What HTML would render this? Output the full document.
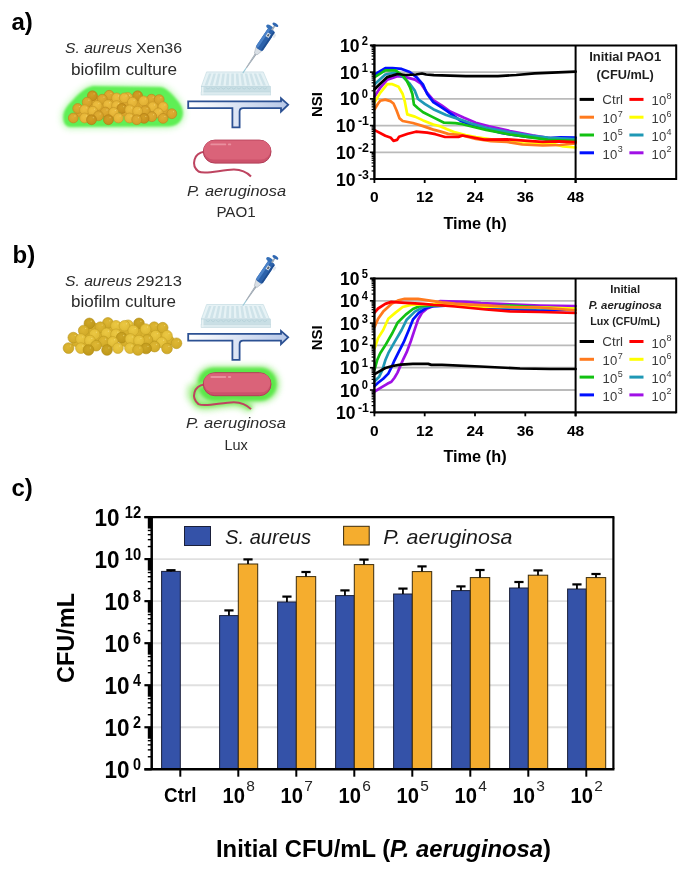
<!DOCTYPE html><html><head><meta charset="utf-8"><style>html,body{margin:0;padding:0;background:#fff;}svg{display:block;}text{font-family:"Liberation Sans",sans-serif;}</style></head><body>
<svg style="will-change:transform" width="685" height="871" viewBox="0 0 685 871">

<defs>
 <radialGradient id="gD" cx="0.45" cy="0.4" r="0.65"><stop offset="0" stop-color="#D29E25"/><stop offset="1" stop-color="#C28C1A"/></radialGradient>
 <radialGradient id="gM" cx="0.45" cy="0.4" r="0.65"><stop offset="0" stop-color="#E0AD33"/><stop offset="1" stop-color="#D19D25"/></radialGradient>
 <radialGradient id="gL" cx="0.45" cy="0.4" r="0.65"><stop offset="0" stop-color="#EDBE40"/><stop offset="1" stop-color="#DFAE31"/></radialGradient>
 <radialGradient id="bD" cx="0.45" cy="0.4" r="0.65"><stop offset="0" stop-color="#CDA626"/><stop offset="1" stop-color="#BD9619"/></radialGradient>
 <radialGradient id="bM" cx="0.45" cy="0.4" r="0.65"><stop offset="0" stop-color="#DEB734"/><stop offset="1" stop-color="#CFA826"/></radialGradient>
 <radialGradient id="bL" cx="0.45" cy="0.4" r="0.65"><stop offset="0" stop-color="#EBC843"/><stop offset="1" stop-color="#DEB833"/></radialGradient>
 <linearGradient id="arr" x1="0" y1="0" x2="1" y2="0"><stop offset="0" stop-color="#FFFFFF"/><stop offset="1" stop-color="#B7C8E8"/></linearGradient>
 <linearGradient id="arrS" x1="0" y1="0" x2="0" y2="1"><stop offset="0" stop-color="#D3DDF0"/><stop offset="1" stop-color="#E8EEF8"/></linearGradient>
 <filter id="blur4" x="-30%" y="-60%" width="160%" height="220%"><feGaussianBlur stdDeviation="3.2"/></filter>
 <filter id="blur1" x="-30%" y="-60%" width="160%" height="220%"><feGaussianBlur stdDeviation="1.0"/></filter>
 <filter id="blur2" x="-30%" y="-60%" width="160%" height="220%"><feGaussianBlur stdDeviation="1.6"/></filter>
</defs>

<rect width="685" height="871" fill="#fff"/>
<text x="11.5" y="30" font-size="24" font-weight="bold" font-style="normal" fill="#000" text-anchor="start">a)</text>
<text x="12.5" y="263" font-size="24" font-weight="bold" font-style="normal" fill="#000" text-anchor="start">b)</text>
<text x="11.5" y="496" font-size="24" font-weight="bold" font-style="normal" fill="#000" text-anchor="start">c)</text>
<g filter="url(#blur4)" opacity="0.45"><path d="M93,86 L160,87 C167,88 172,94 177,100 C182,106 184.5,112 182,118 C180,123 176,126 168,126.5 L70,127 C64,126.5 62.5,120 63.5,114 C65,108 69,104 73,100 C78,94 86,87 93,86 Z" fill="#7CF06A" stroke="#7CF06A" stroke-width="4"/></g>
<g filter="url(#blur1)"><path d="M93,86 L160,87 C167,88 172,94 177,100 C182,106 184.5,112 182,118 C180,123 176,126 168,126.5 L70,127 C64,126.5 62.5,120 63.5,114 C65,108 69,104 73,100 C78,94 86,87 93,86 Z" fill="#5FEF55"/></g>
<circle cx="95.7" cy="99.5" r="4.70" fill="url(#gM)"/>
<circle cx="111.8" cy="99.5" r="4.70" fill="url(#gM)"/>
<circle cx="120.2" cy="101.6" r="4.70" fill="url(#gM)"/>
<circle cx="137.7" cy="101.6" r="4.70" fill="url(#gM)"/>
<circle cx="126.5" cy="102.3" r="4.70" fill="url(#gM)"/>
<circle cx="155.2" cy="102.3" r="4.70" fill="url(#gM)"/>
<circle cx="92.2" cy="103.0" r="4.70" fill="url(#gM)"/>
<circle cx="148.2" cy="103.0" r="4.70" fill="url(#gM)"/>
<circle cx="102.0" cy="104.4" r="4.70" fill="url(#gM)"/>
<circle cx="141.2" cy="105.1" r="4.70" fill="url(#gM)"/>
<circle cx="135.6" cy="106.5" r="4.70" fill="url(#gM)"/>
<circle cx="158.0" cy="106.5" r="4.70" fill="url(#gM)"/>
<circle cx="88.7" cy="107.2" r="4.70" fill="url(#gM)"/>
<circle cx="111.8" cy="107.9" r="4.70" fill="url(#gM)"/>
<circle cx="100.6" cy="109.3" r="4.70" fill="url(#gM)"/>
<circle cx="150.3" cy="111.4" r="4.70" fill="url(#gM)"/>
<circle cx="164.3" cy="111.4" r="4.70" fill="url(#gM)"/>
<circle cx="125.1" cy="112.1" r="4.70" fill="url(#gM)"/>
<circle cx="80.3" cy="112.8" r="4.70" fill="url(#gM)"/>
<circle cx="88.0" cy="113.5" r="4.70" fill="url(#gM)"/>
<circle cx="132.8" cy="113.5" r="4.70" fill="url(#gM)"/>
<circle cx="141.2" cy="114.2" r="4.70" fill="url(#gM)"/>
<circle cx="109.0" cy="114.9" r="4.70" fill="url(#gM)"/>
<circle cx="109.2" cy="95.3" r="4.95" fill="url(#gM)" stroke="#B8861C" stroke-width="0.6"/>
<circle cx="111.0" cy="93.3" r="0.64" fill="#FFF0A0" opacity="0.45"/>
<circle cx="92.4" cy="95.8" r="4.95" fill="url(#gD)" stroke="#AE7A12" stroke-width="0.6"/>
<circle cx="94.1" cy="93.8" r="0.64" fill="#FFF0A0" opacity="0.45"/>
<circle cx="137.6" cy="95.8" r="4.95" fill="url(#gD)" stroke="#AE7A12" stroke-width="0.6"/>
<circle cx="139.3" cy="93.8" r="0.64" fill="#FFF0A0" opacity="0.45"/>
<circle cx="127.7" cy="97.5" r="4.95" fill="url(#gL)" stroke="#C49424" stroke-width="0.6"/>
<circle cx="129.4" cy="95.5" r="0.64" fill="#FFF0A0" opacity="0.45"/>
<circle cx="116.6" cy="97.9" r="4.95" fill="url(#gL)" stroke="#C49424" stroke-width="0.6"/>
<circle cx="118.4" cy="95.9" r="0.64" fill="#FFF0A0" opacity="0.45"/>
<circle cx="124.4" cy="97.9" r="4.95" fill="url(#gL)" stroke="#C49424" stroke-width="0.6"/>
<circle cx="126.1" cy="95.9" r="0.64" fill="#FFF0A0" opacity="0.45"/>
<circle cx="102.3" cy="99.2" r="4.95" fill="url(#gM)" stroke="#B8861C" stroke-width="0.6"/>
<circle cx="104.0" cy="97.2" r="0.64" fill="#FFF0A0" opacity="0.45"/>
<circle cx="151.5" cy="99.2" r="4.95" fill="url(#gM)" stroke="#B8861C" stroke-width="0.6"/>
<circle cx="153.2" cy="97.2" r="0.64" fill="#FFF0A0" opacity="0.45"/>
<circle cx="159.2" cy="99.6" r="4.95" fill="url(#gM)" stroke="#B8861C" stroke-width="0.6"/>
<circle cx="160.9" cy="97.7" r="0.64" fill="#FFF0A0" opacity="0.45"/>
<circle cx="143.6" cy="100.9" r="4.95" fill="url(#gL)" stroke="#C49424" stroke-width="0.6"/>
<circle cx="145.3" cy="98.9" r="0.64" fill="#FFF0A0" opacity="0.45"/>
<circle cx="87.2" cy="102.2" r="4.95" fill="url(#gM)" stroke="#B8861C" stroke-width="0.6"/>
<circle cx="88.9" cy="100.2" r="0.64" fill="#FFF0A0" opacity="0.45"/>
<circle cx="132.4" cy="102.2" r="4.95" fill="url(#gL)" stroke="#C49424" stroke-width="0.6"/>
<circle cx="134.1" cy="100.2" r="0.64" fill="#FFF0A0" opacity="0.45"/>
<circle cx="108.0" cy="104.7" r="4.95" fill="url(#gL)" stroke="#C49424" stroke-width="0.6"/>
<circle cx="109.7" cy="102.7" r="0.64" fill="#FFF0A0" opacity="0.45"/>
<circle cx="97.1" cy="105.6" r="4.95" fill="url(#gL)" stroke="#C49424" stroke-width="0.6"/>
<circle cx="98.8" cy="103.6" r="0.64" fill="#FFF0A0" opacity="0.45"/>
<circle cx="116.6" cy="105.6" r="4.95" fill="url(#gL)" stroke="#C49424" stroke-width="0.6"/>
<circle cx="118.4" cy="103.6" r="0.64" fill="#FFF0A0" opacity="0.45"/>
<circle cx="152.7" cy="106.8" r="4.95" fill="url(#gL)" stroke="#C49424" stroke-width="0.6"/>
<circle cx="154.5" cy="104.9" r="0.64" fill="#FFF0A0" opacity="0.45"/>
<circle cx="163.1" cy="106.8" r="4.95" fill="url(#gL)" stroke="#C49424" stroke-width="0.6"/>
<circle cx="164.9" cy="104.9" r="0.64" fill="#FFF0A0" opacity="0.45"/>
<circle cx="77.7" cy="108.5" r="4.95" fill="url(#gM)" stroke="#B8861C" stroke-width="0.6"/>
<circle cx="79.4" cy="106.6" r="0.64" fill="#FFF0A0" opacity="0.45"/>
<circle cx="121.8" cy="108.5" r="4.95" fill="url(#gD)" stroke="#AE7A12" stroke-width="0.6"/>
<circle cx="123.6" cy="106.6" r="0.64" fill="#FFF0A0" opacity="0.45"/>
<circle cx="84.6" cy="109.8" r="4.95" fill="url(#gL)" stroke="#C49424" stroke-width="0.6"/>
<circle cx="86.3" cy="107.8" r="0.64" fill="#FFF0A0" opacity="0.45"/>
<circle cx="129.8" cy="109.8" r="4.95" fill="url(#gL)" stroke="#C49424" stroke-width="0.6"/>
<circle cx="131.5" cy="107.8" r="0.64" fill="#FFF0A0" opacity="0.45"/>
<circle cx="145.3" cy="110.7" r="4.95" fill="url(#gM)" stroke="#B8861C" stroke-width="0.6"/>
<circle cx="147.1" cy="108.7" r="0.64" fill="#FFF0A0" opacity="0.45"/>
<circle cx="92.8" cy="111.2" r="4.95" fill="url(#gL)" stroke="#C49424" stroke-width="0.6"/>
<circle cx="94.5" cy="109.2" r="0.64" fill="#FFF0A0" opacity="0.45"/>
<circle cx="137.6" cy="111.2" r="4.95" fill="url(#gL)" stroke="#C49424" stroke-width="0.6"/>
<circle cx="139.3" cy="109.2" r="0.64" fill="#FFF0A0" opacity="0.45"/>
<circle cx="105.3" cy="112.0" r="4.95" fill="url(#gM)" stroke="#B8861C" stroke-width="0.6"/>
<circle cx="107.0" cy="110.0" r="0.64" fill="#FFF0A0" opacity="0.45"/>
<circle cx="113.6" cy="112.4" r="4.95" fill="url(#gL)" stroke="#C49424" stroke-width="0.6"/>
<circle cx="115.3" cy="110.4" r="0.64" fill="#FFF0A0" opacity="0.45"/>
<circle cx="158.3" cy="112.9" r="4.95" fill="url(#gL)" stroke="#C49424" stroke-width="0.6"/>
<circle cx="160.0" cy="110.9" r="0.64" fill="#FFF0A0" opacity="0.45"/>
<circle cx="171.8" cy="113.7" r="4.95" fill="url(#gM)" stroke="#B8861C" stroke-width="0.6"/>
<circle cx="173.5" cy="111.7" r="0.64" fill="#FFF0A0" opacity="0.45"/>
<circle cx="98.5" cy="115.8" r="4.95" fill="url(#gM)" stroke="#B8861C" stroke-width="0.6"/>
<circle cx="100.2" cy="113.9" r="0.64" fill="#FFF0A0" opacity="0.45"/>
<circle cx="151.8" cy="116.7" r="4.95" fill="url(#gM)" stroke="#B8861C" stroke-width="0.6"/>
<circle cx="153.6" cy="114.7" r="0.64" fill="#FFF0A0" opacity="0.45"/>
<circle cx="73.3" cy="118.0" r="4.95" fill="url(#gM)" stroke="#B8861C" stroke-width="0.6"/>
<circle cx="75.0" cy="116.0" r="0.64" fill="#FFF0A0" opacity="0.45"/>
<circle cx="84.6" cy="118.0" r="4.95" fill="url(#gL)" stroke="#C49424" stroke-width="0.6"/>
<circle cx="86.3" cy="116.0" r="0.64" fill="#FFF0A0" opacity="0.45"/>
<circle cx="118.4" cy="118.0" r="4.95" fill="url(#gL)" stroke="#C49424" stroke-width="0.6"/>
<circle cx="120.1" cy="116.0" r="0.64" fill="#FFF0A0" opacity="0.45"/>
<circle cx="129.4" cy="118.0" r="4.95" fill="url(#gL)" stroke="#C49424" stroke-width="0.6"/>
<circle cx="131.1" cy="116.0" r="0.64" fill="#FFF0A0" opacity="0.45"/>
<circle cx="144.1" cy="118.4" r="4.95" fill="url(#gD)" stroke="#AE7A12" stroke-width="0.6"/>
<circle cx="145.8" cy="116.4" r="0.64" fill="#FFF0A0" opacity="0.45"/>
<circle cx="163.1" cy="118.4" r="4.95" fill="url(#gM)" stroke="#B8861C" stroke-width="0.6"/>
<circle cx="164.9" cy="116.4" r="0.64" fill="#FFF0A0" opacity="0.45"/>
<circle cx="91.5" cy="119.7" r="4.95" fill="url(#gD)" stroke="#AE7A12" stroke-width="0.6"/>
<circle cx="93.3" cy="117.7" r="0.64" fill="#FFF0A0" opacity="0.45"/>
<circle cx="108.4" cy="119.7" r="4.95" fill="url(#gD)" stroke="#AE7A12" stroke-width="0.6"/>
<circle cx="110.1" cy="117.7" r="0.64" fill="#FFF0A0" opacity="0.45"/>
<circle cx="136.7" cy="119.7" r="4.95" fill="url(#gM)" stroke="#B8861C" stroke-width="0.6"/>
<circle cx="138.4" cy="117.7" r="0.64" fill="#FFF0A0" opacity="0.45"/>
<path d="M206.6,71.9 L263.3,71.9 L269.4,86.4 L201.4,86.4 Z" fill="#E6F2F5" stroke="#C6DCE2" stroke-width="0.7"/>
<path d="M209.00,73.4 L211.46,73.4 L207.40,85.4 L204.47,85.4 Z" fill="#CFE3E9"/>
<path d="M213.47,73.4 L215.93,73.4 L212.73,85.4 L209.80,85.4 Z" fill="#CFE3E9"/>
<path d="M217.94,73.4 L220.41,73.4 L218.07,85.4 L215.13,85.4 Z" fill="#CFE3E9"/>
<path d="M222.42,73.4 L224.88,73.4 L223.40,85.4 L220.47,85.4 Z" fill="#CFE3E9"/>
<path d="M226.90,73.4 L229.36,73.4 L228.73,85.4 L225.80,85.4 Z" fill="#CFE3E9"/>
<path d="M231.37,73.4 L233.83,73.4 L234.07,85.4 L231.13,85.4 Z" fill="#CFE3E9"/>
<path d="M235.84,73.4 L238.31,73.4 L239.40,85.4 L236.47,85.4 Z" fill="#CFE3E9"/>
<path d="M240.32,73.4 L242.78,73.4 L244.73,85.4 L241.80,85.4 Z" fill="#CFE3E9"/>
<path d="M244.80,73.4 L247.26,73.4 L250.07,85.4 L247.13,85.4 Z" fill="#CFE3E9"/>
<path d="M249.27,73.4 L251.73,73.4 L255.40,85.4 L252.47,85.4 Z" fill="#CFE3E9"/>
<path d="M253.75,73.4 L256.21,73.4 L260.73,85.4 L257.80,85.4 Z" fill="#CFE3E9"/>
<path d="M258.22,73.4 L260.68,73.4 L266.07,85.4 L263.13,85.4 Z" fill="#CFE3E9"/>
<rect x="201.4" y="86.4" width="68.99999999999997" height="5.599999999999994" fill="#C9DFE5" stroke="#BCD5DC" stroke-width="0.6"/>
<path d="M205.78,87.60000000000001 Q207.98,90.60000000000001 210.18,87.60000000000001" fill="none" stroke="#B2CFD7" stroke-width="0.8"/>
<path d="M210.95,87.60000000000001 Q213.15,90.60000000000001 215.35,87.60000000000001" fill="none" stroke="#B2CFD7" stroke-width="0.8"/>
<path d="M216.12,87.60000000000001 Q218.32,90.60000000000001 220.52,87.60000000000001" fill="none" stroke="#B2CFD7" stroke-width="0.8"/>
<path d="M221.28,87.60000000000001 Q223.48,90.60000000000001 225.68,87.60000000000001" fill="none" stroke="#B2CFD7" stroke-width="0.8"/>
<path d="M226.45,87.60000000000001 Q228.65,90.60000000000001 230.85,87.60000000000001" fill="none" stroke="#B2CFD7" stroke-width="0.8"/>
<path d="M231.62,87.60000000000001 Q233.82,90.60000000000001 236.02,87.60000000000001" fill="none" stroke="#B2CFD7" stroke-width="0.8"/>
<path d="M236.78,87.60000000000001 Q238.98,90.60000000000001 241.18,87.60000000000001" fill="none" stroke="#B2CFD7" stroke-width="0.8"/>
<path d="M241.95,87.60000000000001 Q244.15,90.60000000000001 246.35,87.60000000000001" fill="none" stroke="#B2CFD7" stroke-width="0.8"/>
<path d="M247.12,87.60000000000001 Q249.32,90.60000000000001 251.52,87.60000000000001" fill="none" stroke="#B2CFD7" stroke-width="0.8"/>
<path d="M252.28,87.60000000000001 Q254.48,90.60000000000001 256.68,87.60000000000001" fill="none" stroke="#B2CFD7" stroke-width="0.8"/>
<path d="M257.45,87.60000000000001 Q259.65,90.60000000000001 261.85,87.60000000000001" fill="none" stroke="#B2CFD7" stroke-width="0.8"/>
<path d="M262.62,87.60000000000001 Q264.82,90.60000000000001 267.02,87.60000000000001" fill="none" stroke="#B2CFD7" stroke-width="0.8"/>
<rect x="201.1" y="92.0" width="69.59999999999997" height="3.0" fill="#DCEBEF" stroke="#C3D9DF" stroke-width="0.6"/>
<rect x="201.70000000000002" y="86.9" width="1.8" height="7.599999999999994" fill="#E8F2F4"/>
<g transform="translate(242.8,73.1) rotate(-56)">
<line x1="0" y1="0" x2="7" y2="0" stroke="#9CCAD8" stroke-width="1.1"/>
<path d="M6.5,-0.55 L24,-1.0 L24,1.0 L6.5,0.55 Z" fill="#929DA8"/>
<path d="M6.5,-0.2 L24,-0.4 L24,0.1 L6.5,0.1 Z" fill="#C7CED6"/>
<path d="M23,-1.6 L29.5,-3.8 L29.5,3.6 L23,1.6 Z" fill="#D9DFE5" stroke="#A3ACB6" stroke-width="0.5"/>
<rect x="28.5" y="-4.1" width="24" height="8.2" rx="2.2" fill="#2C62AB"/>
<rect x="29.5" y="-4.1" width="22" height="2.6" rx="1.2" fill="#4B82C8"/>
<rect x="29.5" y="2.2" width="22" height="1.6" rx="0.8" fill="#1F4E90"/>
<ellipse cx="53" cy="-3.2" rx="2.0" ry="4.0" fill="#3570B8"/>
<rect x="43.5" y="-1.8" width="4.2" height="3.4" fill="#E9EEF4"/>
<rect x="44.3" y="-1.0" width="2.6" height="1.8" fill="#55606C"/>
<rect x="46.5" y="4.0" width="4" height="2.6" rx="0.8" fill="#E3E8EE"/>
<rect x="52" y="-0.8" width="5.5" height="1.6" fill="#A0AAB4"/>
<ellipse cx="58.3" cy="0" rx="1.5" ry="3.3" fill="#2F67B2"/>
</g>
<path d="M188.2,101.3 L281.0,101.3 L281.0,98.3 L288.2,104.69999999999999 L281.0,111.6 L281.0,108.1 L243.1,108.1 Q239.6,108.1 239.6,111.6 L239.6,127.3 L232.4,127.3 L232.4,108.1 L188.2,108.1 Z" fill="url(#arr)" stroke="#2C5193" stroke-width="1.8" stroke-linejoin="miter"/>
<path d="M204.3,151.8 C194,153 190.5,165 198.5,171.5 C205,175 222,169.5 234,169.6 C242,169.8 247,172.5 251,176.5" fill="none" stroke="#BE4460" stroke-width="2"/>
<rect x="203.3" y="140.1" width="67.69999999999999" height="23.0" rx="11.5" fill="#CC526B" stroke="#B23E58" stroke-width="1"/>
<rect x="203.8" y="140.6" width="66.69999999999999" height="19.0" rx="9.5" fill="#DA6379"/>
<line x1="211.3" y1="144.4" x2="225.3" y2="144.4" stroke="#E9909F" stroke-width="1.8" stroke-linecap="round"/>
<line x1="228.8" y1="144.4" x2="230.3" y2="144.4" stroke="#E9909F" stroke-width="1.8" stroke-linecap="round"/>
<text x="65" y="53.2" font-size="15" font-weight="normal" font-style="italic" fill="#2B2B2B" text-anchor="start" textLength="67" lengthAdjust="spacingAndGlyphs">S. aureus</text>
<text x="136" y="53.2" font-size="15" font-weight="normal" font-style="normal" fill="#2B2B2B" text-anchor="start" textLength="46" lengthAdjust="spacingAndGlyphs">Xen36</text>
<text x="71" y="74.6" font-size="16" font-weight="normal" font-style="normal" fill="#2B2B2B" text-anchor="start" textLength="106" lengthAdjust="spacingAndGlyphs">biofilm culture</text>
<text x="187" y="195.7" font-size="14.8" font-weight="normal" font-style="italic" fill="#2B2B2B" text-anchor="start" textLength="99" lengthAdjust="spacingAndGlyphs">P. aeruginosa</text>
<text x="216.4" y="217.2" font-size="15" font-weight="normal" font-style="normal" fill="#2B2B2B" text-anchor="start" textLength="39.3" lengthAdjust="spacingAndGlyphs">PAO1</text>
<circle cx="93.0" cy="327.1" r="5.08" fill="url(#bM)"/>
<circle cx="105.6" cy="327.8" r="5.08" fill="url(#bM)"/>
<circle cx="111.2" cy="327.8" r="5.08" fill="url(#bM)"/>
<circle cx="120.3" cy="329.2" r="5.08" fill="url(#bM)"/>
<circle cx="138.5" cy="329.9" r="5.08" fill="url(#bM)"/>
<circle cx="88.8" cy="330.6" r="5.08" fill="url(#bM)"/>
<circle cx="126.6" cy="330.6" r="5.08" fill="url(#bM)"/>
<circle cx="158.1" cy="330.6" r="5.08" fill="url(#bM)"/>
<circle cx="150.4" cy="331.3" r="5.08" fill="url(#bM)"/>
<circle cx="100.0" cy="332.7" r="5.08" fill="url(#bM)"/>
<circle cx="142.7" cy="333.4" r="5.08" fill="url(#bM)"/>
<circle cx="137.1" cy="334.8" r="5.08" fill="url(#bM)"/>
<circle cx="161.6" cy="334.8" r="5.08" fill="url(#bM)"/>
<circle cx="85.3" cy="335.5" r="5.08" fill="url(#bM)"/>
<circle cx="111.2" cy="336.2" r="5.08" fill="url(#bM)"/>
<circle cx="98.6" cy="337.6" r="5.08" fill="url(#bM)"/>
<circle cx="153.2" cy="340.4" r="5.08" fill="url(#bM)"/>
<circle cx="169.3" cy="340.4" r="5.08" fill="url(#bM)"/>
<circle cx="76.2" cy="341.8" r="5.08" fill="url(#bM)"/>
<circle cx="125.2" cy="341.8" r="5.08" fill="url(#bM)"/>
<circle cx="84.6" cy="342.5" r="5.08" fill="url(#bM)"/>
<circle cx="134.3" cy="342.5" r="5.08" fill="url(#bM)"/>
<circle cx="143.4" cy="343.2" r="5.08" fill="url(#bM)"/>
<circle cx="107.7" cy="344.6" r="5.08" fill="url(#bM)"/>
<circle cx="149.7" cy="344.6" r="5.08" fill="url(#bM)"/>
<circle cx="107.9" cy="322.9" r="5.35" fill="url(#bM)" stroke="#B8951C" stroke-width="0.6"/>
<circle cx="109.8" cy="320.8" r="0.70" fill="#FFF0A0" opacity="0.45"/>
<circle cx="89.4" cy="323.4" r="5.35" fill="url(#bD)" stroke="#AE8912" stroke-width="0.6"/>
<circle cx="91.3" cy="321.3" r="0.70" fill="#FFF0A0" opacity="0.45"/>
<circle cx="139.0" cy="323.4" r="5.35" fill="url(#bD)" stroke="#AE8912" stroke-width="0.6"/>
<circle cx="140.9" cy="321.3" r="0.70" fill="#FFF0A0" opacity="0.45"/>
<circle cx="128.1" cy="325.3" r="5.35" fill="url(#bL)" stroke="#C4A024" stroke-width="0.6"/>
<circle cx="130.0" cy="323.2" r="0.70" fill="#FFF0A0" opacity="0.45"/>
<circle cx="116.0" cy="325.8" r="5.35" fill="url(#bL)" stroke="#C4A024" stroke-width="0.6"/>
<circle cx="117.9" cy="323.7" r="0.70" fill="#FFF0A0" opacity="0.45"/>
<circle cx="124.5" cy="325.8" r="5.35" fill="url(#bL)" stroke="#C4A024" stroke-width="0.6"/>
<circle cx="126.4" cy="323.7" r="0.70" fill="#FFF0A0" opacity="0.45"/>
<circle cx="100.3" cy="327.2" r="5.35" fill="url(#bM)" stroke="#B8951C" stroke-width="0.6"/>
<circle cx="102.2" cy="325.1" r="0.70" fill="#FFF0A0" opacity="0.45"/>
<circle cx="154.2" cy="327.2" r="5.35" fill="url(#bM)" stroke="#B8951C" stroke-width="0.6"/>
<circle cx="156.1" cy="325.1" r="0.70" fill="#FFF0A0" opacity="0.45"/>
<circle cx="162.7" cy="327.7" r="5.35" fill="url(#bM)" stroke="#B8951C" stroke-width="0.6"/>
<circle cx="164.6" cy="325.6" r="0.70" fill="#FFF0A0" opacity="0.45"/>
<circle cx="145.6" cy="329.1" r="5.35" fill="url(#bL)" stroke="#C4A024" stroke-width="0.6"/>
<circle cx="147.5" cy="327.0" r="0.70" fill="#FFF0A0" opacity="0.45"/>
<circle cx="83.7" cy="330.5" r="5.35" fill="url(#bM)" stroke="#B8951C" stroke-width="0.6"/>
<circle cx="85.6" cy="328.4" r="0.70" fill="#FFF0A0" opacity="0.45"/>
<circle cx="133.3" cy="330.5" r="5.35" fill="url(#bL)" stroke="#C4A024" stroke-width="0.6"/>
<circle cx="135.2" cy="328.4" r="0.70" fill="#FFF0A0" opacity="0.45"/>
<circle cx="106.5" cy="333.3" r="5.35" fill="url(#bL)" stroke="#C4A024" stroke-width="0.6"/>
<circle cx="108.4" cy="331.2" r="0.70" fill="#FFF0A0" opacity="0.45"/>
<circle cx="94.6" cy="334.3" r="5.35" fill="url(#bL)" stroke="#C4A024" stroke-width="0.6"/>
<circle cx="96.5" cy="332.2" r="0.70" fill="#FFF0A0" opacity="0.45"/>
<circle cx="116.0" cy="334.3" r="5.35" fill="url(#bL)" stroke="#C4A024" stroke-width="0.6"/>
<circle cx="117.9" cy="332.2" r="0.70" fill="#FFF0A0" opacity="0.45"/>
<circle cx="155.6" cy="335.7" r="5.35" fill="url(#bL)" stroke="#C4A024" stroke-width="0.6"/>
<circle cx="157.5" cy="333.6" r="0.70" fill="#FFF0A0" opacity="0.45"/>
<circle cx="167.0" cy="335.7" r="5.35" fill="url(#bL)" stroke="#C4A024" stroke-width="0.6"/>
<circle cx="168.9" cy="333.6" r="0.70" fill="#FFF0A0" opacity="0.45"/>
<circle cx="73.3" cy="337.6" r="5.35" fill="url(#bM)" stroke="#B8951C" stroke-width="0.6"/>
<circle cx="75.2" cy="335.5" r="0.70" fill="#FFF0A0" opacity="0.45"/>
<circle cx="121.7" cy="337.6" r="5.35" fill="url(#bD)" stroke="#AE8912" stroke-width="0.6"/>
<circle cx="123.6" cy="335.5" r="0.70" fill="#FFF0A0" opacity="0.45"/>
<circle cx="80.9" cy="339.0" r="5.35" fill="url(#bL)" stroke="#C4A024" stroke-width="0.6"/>
<circle cx="82.8" cy="336.9" r="0.70" fill="#FFF0A0" opacity="0.45"/>
<circle cx="130.4" cy="339.0" r="5.35" fill="url(#bL)" stroke="#C4A024" stroke-width="0.6"/>
<circle cx="132.3" cy="336.9" r="0.70" fill="#FFF0A0" opacity="0.45"/>
<circle cx="147.5" cy="340.0" r="5.35" fill="url(#bM)" stroke="#B8951C" stroke-width="0.6"/>
<circle cx="149.4" cy="337.9" r="0.70" fill="#FFF0A0" opacity="0.45"/>
<circle cx="89.9" cy="340.5" r="5.35" fill="url(#bL)" stroke="#C4A024" stroke-width="0.6"/>
<circle cx="91.8" cy="338.4" r="0.70" fill="#FFF0A0" opacity="0.45"/>
<circle cx="139.0" cy="340.5" r="5.35" fill="url(#bL)" stroke="#C4A024" stroke-width="0.6"/>
<circle cx="140.9" cy="338.4" r="0.70" fill="#FFF0A0" opacity="0.45"/>
<circle cx="103.6" cy="341.4" r="5.35" fill="url(#bM)" stroke="#B8951C" stroke-width="0.6"/>
<circle cx="105.5" cy="339.3" r="0.70" fill="#FFF0A0" opacity="0.45"/>
<circle cx="112.7" cy="341.9" r="5.35" fill="url(#bL)" stroke="#C4A024" stroke-width="0.6"/>
<circle cx="114.6" cy="339.8" r="0.70" fill="#FFF0A0" opacity="0.45"/>
<circle cx="161.7" cy="342.4" r="5.35" fill="url(#bL)" stroke="#C4A024" stroke-width="0.6"/>
<circle cx="163.6" cy="340.3" r="0.70" fill="#FFF0A0" opacity="0.45"/>
<circle cx="176.5" cy="343.3" r="5.35" fill="url(#bM)" stroke="#B8951C" stroke-width="0.6"/>
<circle cx="178.4" cy="341.2" r="0.70" fill="#FFF0A0" opacity="0.45"/>
<circle cx="96.1" cy="345.7" r="5.35" fill="url(#bM)" stroke="#B8951C" stroke-width="0.6"/>
<circle cx="98.0" cy="343.6" r="0.70" fill="#FFF0A0" opacity="0.45"/>
<circle cx="154.6" cy="346.6" r="5.35" fill="url(#bM)" stroke="#B8951C" stroke-width="0.6"/>
<circle cx="156.5" cy="344.5" r="0.70" fill="#FFF0A0" opacity="0.45"/>
<circle cx="68.5" cy="348.1" r="5.35" fill="url(#bM)" stroke="#B8951C" stroke-width="0.6"/>
<circle cx="70.4" cy="346.0" r="0.70" fill="#FFF0A0" opacity="0.45"/>
<circle cx="80.9" cy="348.1" r="5.35" fill="url(#bL)" stroke="#C4A024" stroke-width="0.6"/>
<circle cx="82.8" cy="346.0" r="0.70" fill="#FFF0A0" opacity="0.45"/>
<circle cx="117.9" cy="348.1" r="5.35" fill="url(#bL)" stroke="#C4A024" stroke-width="0.6"/>
<circle cx="119.8" cy="346.0" r="0.70" fill="#FFF0A0" opacity="0.45"/>
<circle cx="130.0" cy="348.1" r="5.35" fill="url(#bL)" stroke="#C4A024" stroke-width="0.6"/>
<circle cx="131.9" cy="346.0" r="0.70" fill="#FFF0A0" opacity="0.45"/>
<circle cx="146.1" cy="348.5" r="5.35" fill="url(#bD)" stroke="#AE8912" stroke-width="0.6"/>
<circle cx="148.0" cy="346.4" r="0.70" fill="#FFF0A0" opacity="0.45"/>
<circle cx="167.0" cy="348.5" r="5.35" fill="url(#bM)" stroke="#B8951C" stroke-width="0.6"/>
<circle cx="168.9" cy="346.4" r="0.70" fill="#FFF0A0" opacity="0.45"/>
<circle cx="88.5" cy="350.0" r="5.35" fill="url(#bD)" stroke="#AE8912" stroke-width="0.6"/>
<circle cx="90.4" cy="347.9" r="0.70" fill="#FFF0A0" opacity="0.45"/>
<circle cx="107.0" cy="350.0" r="5.35" fill="url(#bD)" stroke="#AE8912" stroke-width="0.6"/>
<circle cx="108.9" cy="347.9" r="0.70" fill="#FFF0A0" opacity="0.45"/>
<circle cx="138.0" cy="350.0" r="5.35" fill="url(#bM)" stroke="#B8951C" stroke-width="0.6"/>
<circle cx="139.9" cy="347.9" r="0.70" fill="#FFF0A0" opacity="0.45"/>
<path d="M206.6,304.5 L263.3,304.5 L269.4,319.0 L201.4,319.0 Z" fill="#E6F2F5" stroke="#C6DCE2" stroke-width="0.7"/>
<path d="M209.00,306.0 L211.46,306.0 L207.40,318.0 L204.47,318.0 Z" fill="#CFE3E9"/>
<path d="M213.47,306.0 L215.93,306.0 L212.73,318.0 L209.80,318.0 Z" fill="#CFE3E9"/>
<path d="M217.94,306.0 L220.41,306.0 L218.07,318.0 L215.13,318.0 Z" fill="#CFE3E9"/>
<path d="M222.42,306.0 L224.88,306.0 L223.40,318.0 L220.47,318.0 Z" fill="#CFE3E9"/>
<path d="M226.90,306.0 L229.36,306.0 L228.73,318.0 L225.80,318.0 Z" fill="#CFE3E9"/>
<path d="M231.37,306.0 L233.83,306.0 L234.07,318.0 L231.13,318.0 Z" fill="#CFE3E9"/>
<path d="M235.84,306.0 L238.31,306.0 L239.40,318.0 L236.47,318.0 Z" fill="#CFE3E9"/>
<path d="M240.32,306.0 L242.78,306.0 L244.73,318.0 L241.80,318.0 Z" fill="#CFE3E9"/>
<path d="M244.80,306.0 L247.26,306.0 L250.07,318.0 L247.13,318.0 Z" fill="#CFE3E9"/>
<path d="M249.27,306.0 L251.73,306.0 L255.40,318.0 L252.47,318.0 Z" fill="#CFE3E9"/>
<path d="M253.75,306.0 L256.21,306.0 L260.73,318.0 L257.80,318.0 Z" fill="#CFE3E9"/>
<path d="M258.22,306.0 L260.68,306.0 L266.07,318.0 L263.13,318.0 Z" fill="#CFE3E9"/>
<rect x="201.4" y="319.0" width="68.99999999999997" height="5.600000000000023" fill="#C9DFE5" stroke="#BCD5DC" stroke-width="0.6"/>
<path d="M205.78,320.2 Q207.98,323.2 210.18,320.2" fill="none" stroke="#B2CFD7" stroke-width="0.8"/>
<path d="M210.95,320.2 Q213.15,323.2 215.35,320.2" fill="none" stroke="#B2CFD7" stroke-width="0.8"/>
<path d="M216.12,320.2 Q218.32,323.2 220.52,320.2" fill="none" stroke="#B2CFD7" stroke-width="0.8"/>
<path d="M221.28,320.2 Q223.48,323.2 225.68,320.2" fill="none" stroke="#B2CFD7" stroke-width="0.8"/>
<path d="M226.45,320.2 Q228.65,323.2 230.85,320.2" fill="none" stroke="#B2CFD7" stroke-width="0.8"/>
<path d="M231.62,320.2 Q233.82,323.2 236.02,320.2" fill="none" stroke="#B2CFD7" stroke-width="0.8"/>
<path d="M236.78,320.2 Q238.98,323.2 241.18,320.2" fill="none" stroke="#B2CFD7" stroke-width="0.8"/>
<path d="M241.95,320.2 Q244.15,323.2 246.35,320.2" fill="none" stroke="#B2CFD7" stroke-width="0.8"/>
<path d="M247.12,320.2 Q249.32,323.2 251.52,320.2" fill="none" stroke="#B2CFD7" stroke-width="0.8"/>
<path d="M252.28,320.2 Q254.48,323.2 256.68,320.2" fill="none" stroke="#B2CFD7" stroke-width="0.8"/>
<path d="M257.45,320.2 Q259.65,323.2 261.85,320.2" fill="none" stroke="#B2CFD7" stroke-width="0.8"/>
<path d="M262.62,320.2 Q264.82,323.2 267.02,320.2" fill="none" stroke="#B2CFD7" stroke-width="0.8"/>
<rect x="201.1" y="324.6" width="69.59999999999997" height="3.0" fill="#DCEBEF" stroke="#C3D9DF" stroke-width="0.6"/>
<rect x="201.70000000000002" y="319.5" width="1.8" height="7.600000000000023" fill="#E8F2F4"/>
<g transform="translate(242.8,305.7) rotate(-56)">
<line x1="0" y1="0" x2="7" y2="0" stroke="#9CCAD8" stroke-width="1.1"/>
<path d="M6.5,-0.55 L24,-1.0 L24,1.0 L6.5,0.55 Z" fill="#929DA8"/>
<path d="M6.5,-0.2 L24,-0.4 L24,0.1 L6.5,0.1 Z" fill="#C7CED6"/>
<path d="M23,-1.6 L29.5,-3.8 L29.5,3.6 L23,1.6 Z" fill="#D9DFE5" stroke="#A3ACB6" stroke-width="0.5"/>
<rect x="28.5" y="-4.1" width="24" height="8.2" rx="2.2" fill="#2C62AB"/>
<rect x="29.5" y="-4.1" width="22" height="2.6" rx="1.2" fill="#4B82C8"/>
<rect x="29.5" y="2.2" width="22" height="1.6" rx="0.8" fill="#1F4E90"/>
<ellipse cx="53" cy="-3.2" rx="2.0" ry="4.0" fill="#3570B8"/>
<rect x="43.5" y="-1.8" width="4.2" height="3.4" fill="#E9EEF4"/>
<rect x="44.3" y="-1.0" width="2.6" height="1.8" fill="#55606C"/>
<rect x="46.5" y="4.0" width="4" height="2.6" rx="0.8" fill="#E3E8EE"/>
<rect x="52" y="-0.8" width="5.5" height="1.6" fill="#A0AAB4"/>
<ellipse cx="58.3" cy="0" rx="1.5" ry="3.3" fill="#2F67B2"/>
</g>
<path d="M188.2,333.9 L281.0,333.9 L281.0,330.9 L288.2,337.29999999999995 L281.0,344.2 L281.0,340.7 L243.1,340.7 Q239.6,340.7 239.6,344.2 L239.6,359.9 L232.4,359.9 L232.4,340.7 L188.2,340.7 Z" fill="url(#arr)" stroke="#2C5193" stroke-width="1.8" stroke-linejoin="miter"/>
<g filter="url(#blur4)" opacity="0.85"><rect x="195.3" y="366.2" width="83.69999999999999" height="36.0" rx="17.5" fill="#88EA70"/><path d="M204.3,384.4 C194,385.6 190.5,397.6 198.5,404.1 C205,407.6 222,402.1 234,402.2 C242,402.4 247,405.1 251,409.1 L251,403.7 L200,407.7 L187,397.7 L188,384.7 Z" fill="#9CEE84"/><path d="M204.3,384.4 C194,385.6 190.5,397.6 198.5,404.1 C205,407.6 222,402.1 234,402.2 C242,402.4 247,405.1 251,409.1" fill="none" stroke="#9CEE84" stroke-width="10"/></g>
<g filter="url(#blur2)"><rect x="197.8" y="367.7" width="78.69999999999999" height="33.0" rx="16.5" fill="#5CE84A"/><path d="M204.3,384.4 C194,385.6 190.5,397.6 198.5,404.1 C205,407.6 222,402.1 234,402.2 C242,402.4 247,405.1 251,409.1" fill="none" stroke="#8CEC70" stroke-width="5"/></g>
<path d="M204.3,384.4 C194,385.6 190.5,397.6 198.5,404.1 C205,407.6 222,402.1 234,402.2 C242,402.4 247,405.1 251,409.1" fill="none" stroke="#BE4460" stroke-width="2"/>
<rect x="203.3" y="372.7" width="67.69999999999999" height="23.0" rx="11.5" fill="#CC526B" stroke="#B23E58" stroke-width="1"/>
<rect x="203.8" y="373.2" width="66.69999999999999" height="19.0" rx="9.5" fill="#DA6379"/>
<line x1="211.3" y1="377.0" x2="225.3" y2="377.0" stroke="#E9909F" stroke-width="1.8" stroke-linecap="round"/>
<line x1="228.8" y1="377.0" x2="230.3" y2="377.0" stroke="#E9909F" stroke-width="1.8" stroke-linecap="round"/>
<text x="65" y="285.8" font-size="15" font-weight="normal" font-style="italic" fill="#2B2B2B" text-anchor="start" textLength="67" lengthAdjust="spacingAndGlyphs">S. aureus</text>
<text x="136" y="285.8" font-size="15" font-weight="normal" font-style="normal" fill="#2B2B2B" text-anchor="start" textLength="46" lengthAdjust="spacingAndGlyphs">29213</text>
<text x="71" y="307.4" font-size="16" font-weight="normal" font-style="normal" fill="#2B2B2B" text-anchor="start" textLength="105" lengthAdjust="spacingAndGlyphs">biofilm culture</text>
<text x="186" y="428" font-size="14.8" font-weight="normal" font-style="italic" fill="#2B2B2B" text-anchor="start" textLength="100" lengthAdjust="spacingAndGlyphs">P. aeruginosa</text>
<text x="224.4" y="449.8" font-size="15" font-weight="normal" font-style="normal" fill="#2B2B2B" text-anchor="start" textLength="23.4" lengthAdjust="spacingAndGlyphs">Lux</text>
<line x1="374.4" y1="152.28" x2="575.6" y2="152.28" stroke="#BABABA" stroke-width="1.8"/>
<line x1="374.4" y1="125.56" x2="575.6" y2="125.56" stroke="#BABABA" stroke-width="1.8"/>
<line x1="374.4" y1="98.84" x2="575.6" y2="98.84" stroke="#BABABA" stroke-width="1.8"/>
<line x1="374.4" y1="72.12" x2="575.6" y2="72.12" stroke="#BABABA" stroke-width="1.8"/>
<polyline points="374.6,96.5 380.2,87.8 387.3,79.6 397.5,76.1 405.7,77.1 414.9,79.6 421.0,83.7 427.2,92.9 433.3,100.1 442.0,105.7 450.2,111.5 463.5,117.6 475.8,122.7 489.0,126.3 510.0,131.0 532.5,135.3 547.9,137.8 575.6,138.5" fill="none" stroke="#A010E6" stroke-width="2.7" stroke-linejoin="round" stroke-linecap="round"/>
<polyline points="374.6,74.5 385.3,68.2 392.4,68.0 401.6,68.9 409.8,72.0 417.0,77.6 423.1,84.7 427.2,94.0 433.3,102.1 440.0,106.3 446.1,110.4 460.4,120.7 470.7,124.7 486.0,128.8 501.3,132.9 510.0,134.5 527.4,136.8 547.9,138.3 560.1,137.3 575.6,137.6" fill="none" stroke="#0010FF" stroke-width="2.7" stroke-linejoin="round" stroke-linecap="round"/>
<polyline points="374.6,84.2 385.3,74.5 395.5,72.5 402.7,76.6 409.8,83.7 414.9,90.9 418.0,99.0 425.1,104.1 433.3,109.2 446.1,115.0 460.4,119.6 470.7,123.2 486.0,127.8 510.0,132.4 530.0,135.5 550.0,137.8 575.6,139.0" fill="none" stroke="#1F98B5" stroke-width="2.7" stroke-linejoin="round" stroke-linecap="round"/>
<polyline points="374.6,77.1 385.3,70.4 395.5,70.4 402.7,75.5 406.7,80.7 409.8,86.8 412.4,94.0 413.9,104.4 418.0,108.2 423.1,112.3 433.3,117.4 444.1,122.7 455.3,123.2 462.5,124.2 470.7,126.3 486.0,129.9 510.0,134.5 527.4,136.8 547.9,139.9 563.2,140.4 575.6,140.9" fill="none" stroke="#12C112" stroke-width="2.7" stroke-linejoin="round" stroke-linecap="round"/>
<polyline points="374.6,102.1 380.2,92.9 387.3,84.2 392.4,84.2 398.6,86.8 402.7,94.0 404.7,101.1 407.3,114.4 414.9,116.6 423.1,120.4 433.3,124.5 440.0,126.3 447.2,129.3 455.3,132.4 465.5,135.0 475.8,137.0 486.0,138.5 500.0,140.5 522.3,143.4 553.0,143.9 563.2,146.5 575.6,147.5" fill="none" stroke="#FFFF00" stroke-width="2.7" stroke-linejoin="round" stroke-linecap="round"/>
<polyline points="374.6,109.3 378.1,103.5 380.2,100.8 385.3,99.6 390.4,101.1 393.5,103.5 396.5,110.2 399.6,118.4 402.7,121.0 412.9,123.0 423.1,126.1 433.3,129.6 440.0,131.4 448.2,133.9 460.4,135.0 475.8,139.0 491.1,141.1 507.0,141.9 522.3,144.5 542.8,145.5 560.1,145.0 575.6,143.4" fill="none" stroke="#FF7A1E" stroke-width="2.7" stroke-linejoin="round" stroke-linecap="round"/>
<polyline points="374.6,130.1 385.3,135.8 390.9,137.8 393.5,140.9 397.0,139.9 399.1,136.8 407.8,133.7 415.9,131.7 427.2,132.7 435.4,134.2 445.1,137.0 458.4,137.0 462.5,135.5 470.7,137.0 484.0,139.6 507.0,139.3 527.4,140.9 542.8,141.9 558.1,141.4 575.6,142.1" fill="none" stroke="#FF0000" stroke-width="2.7" stroke-linejoin="round" stroke-linecap="round"/>
<polyline points="374.6,89.3 380.2,83.7 387.3,77.1 397.5,74.0 405.7,75.0 416.0,74.5 422.0,73.5 426.2,74.5 433.8,75.2 465.8,76.1 497.9,76.1 516.3,75.0 534.6,73.3 575.6,71.6" fill="none" stroke="#000000" stroke-width="2.7" stroke-linejoin="round" stroke-linecap="round"/>
<line x1="370.4" y1="45.4" x2="676.2" y2="45.4" stroke="#000" stroke-width="2"/>
<line x1="575.6" y1="45.4" x2="575.6" y2="183.0" stroke="#000" stroke-width="2"/>
<line x1="676.2" y1="44.4" x2="676.2" y2="180.0" stroke="#000" stroke-width="2"/>
<line x1="374.4" y1="179.0" x2="676.2" y2="179.0" stroke="#000" stroke-width="2.2"/>
<line x1="374.4" y1="44.4" x2="374.4" y2="180.0" stroke="#000" stroke-width="2.4"/>
<line x1="369.9" y1="179.00" x2="374.4" y2="179.00" stroke="#000" stroke-width="1.6"/>
<line x1="371.59999999999997" y1="170.96" x2="374.4" y2="170.96" stroke="#000" stroke-width="1.2"/>
<line x1="371.59999999999997" y1="166.25" x2="374.4" y2="166.25" stroke="#000" stroke-width="1.2"/>
<line x1="371.59999999999997" y1="162.91" x2="374.4" y2="162.91" stroke="#000" stroke-width="1.2"/>
<line x1="371.59999999999997" y1="160.32" x2="374.4" y2="160.32" stroke="#000" stroke-width="1.2"/>
<line x1="371.59999999999997" y1="158.21" x2="374.4" y2="158.21" stroke="#000" stroke-width="1.2"/>
<line x1="371.59999999999997" y1="156.42" x2="374.4" y2="156.42" stroke="#000" stroke-width="1.2"/>
<line x1="371.59999999999997" y1="154.87" x2="374.4" y2="154.87" stroke="#000" stroke-width="1.2"/>
<line x1="371.59999999999997" y1="153.50" x2="374.4" y2="153.50" stroke="#000" stroke-width="1.2"/>
<text x="355.5" y="185.6" font-size="17.5" font-weight="bold" font-style="normal" fill="#000" text-anchor="end" textLength="19.5" lengthAdjust="spacingAndGlyphs">10</text>
<text x="358" y="178.5" font-size="12.5" font-weight="bold" font-style="normal" fill="#000" text-anchor="start" textLength="11" lengthAdjust="spacingAndGlyphs">-3</text>
<line x1="369.9" y1="152.28" x2="374.4" y2="152.28" stroke="#000" stroke-width="1.6"/>
<line x1="371.59999999999997" y1="144.24" x2="374.4" y2="144.24" stroke="#000" stroke-width="1.2"/>
<line x1="371.59999999999997" y1="139.53" x2="374.4" y2="139.53" stroke="#000" stroke-width="1.2"/>
<line x1="371.59999999999997" y1="136.19" x2="374.4" y2="136.19" stroke="#000" stroke-width="1.2"/>
<line x1="371.59999999999997" y1="133.60" x2="374.4" y2="133.60" stroke="#000" stroke-width="1.2"/>
<line x1="371.59999999999997" y1="131.49" x2="374.4" y2="131.49" stroke="#000" stroke-width="1.2"/>
<line x1="371.59999999999997" y1="129.70" x2="374.4" y2="129.70" stroke="#000" stroke-width="1.2"/>
<line x1="371.59999999999997" y1="128.15" x2="374.4" y2="128.15" stroke="#000" stroke-width="1.2"/>
<line x1="371.59999999999997" y1="126.78" x2="374.4" y2="126.78" stroke="#000" stroke-width="1.2"/>
<text x="355.5" y="158.88" font-size="17.5" font-weight="bold" font-style="normal" fill="#000" text-anchor="end" textLength="19.5" lengthAdjust="spacingAndGlyphs">10</text>
<text x="358" y="151.78" font-size="12.5" font-weight="bold" font-style="normal" fill="#000" text-anchor="start" textLength="11" lengthAdjust="spacingAndGlyphs">-2</text>
<line x1="369.9" y1="125.56" x2="374.4" y2="125.56" stroke="#000" stroke-width="1.6"/>
<line x1="371.59999999999997" y1="117.52" x2="374.4" y2="117.52" stroke="#000" stroke-width="1.2"/>
<line x1="371.59999999999997" y1="112.81" x2="374.4" y2="112.81" stroke="#000" stroke-width="1.2"/>
<line x1="371.59999999999997" y1="109.47" x2="374.4" y2="109.47" stroke="#000" stroke-width="1.2"/>
<line x1="371.59999999999997" y1="106.88" x2="374.4" y2="106.88" stroke="#000" stroke-width="1.2"/>
<line x1="371.59999999999997" y1="104.77" x2="374.4" y2="104.77" stroke="#000" stroke-width="1.2"/>
<line x1="371.59999999999997" y1="102.98" x2="374.4" y2="102.98" stroke="#000" stroke-width="1.2"/>
<line x1="371.59999999999997" y1="101.43" x2="374.4" y2="101.43" stroke="#000" stroke-width="1.2"/>
<line x1="371.59999999999997" y1="100.06" x2="374.4" y2="100.06" stroke="#000" stroke-width="1.2"/>
<text x="355.5" y="132.16" font-size="17.5" font-weight="bold" font-style="normal" fill="#000" text-anchor="end" textLength="19.5" lengthAdjust="spacingAndGlyphs">10</text>
<text x="358" y="125.06" font-size="12.5" font-weight="bold" font-style="normal" fill="#000" text-anchor="start" textLength="11" lengthAdjust="spacingAndGlyphs">-1</text>
<line x1="369.9" y1="98.84" x2="374.4" y2="98.84" stroke="#000" stroke-width="1.6"/>
<line x1="371.59999999999997" y1="90.80" x2="374.4" y2="90.80" stroke="#000" stroke-width="1.2"/>
<line x1="371.59999999999997" y1="86.09" x2="374.4" y2="86.09" stroke="#000" stroke-width="1.2"/>
<line x1="371.59999999999997" y1="82.75" x2="374.4" y2="82.75" stroke="#000" stroke-width="1.2"/>
<line x1="371.59999999999997" y1="80.16" x2="374.4" y2="80.16" stroke="#000" stroke-width="1.2"/>
<line x1="371.59999999999997" y1="78.05" x2="374.4" y2="78.05" stroke="#000" stroke-width="1.2"/>
<line x1="371.59999999999997" y1="76.26" x2="374.4" y2="76.26" stroke="#000" stroke-width="1.2"/>
<line x1="371.59999999999997" y1="74.71" x2="374.4" y2="74.71" stroke="#000" stroke-width="1.2"/>
<line x1="371.59999999999997" y1="73.34" x2="374.4" y2="73.34" stroke="#000" stroke-width="1.2"/>
<text x="359.6" y="105.44" font-size="17.5" font-weight="bold" font-style="normal" fill="#000" text-anchor="end" textLength="19.5" lengthAdjust="spacingAndGlyphs">10</text>
<text x="361.8" y="98.24000000000001" font-size="12.5" font-weight="bold" font-style="normal" fill="#000" text-anchor="start" textLength="6.2" lengthAdjust="spacingAndGlyphs">0</text>
<line x1="369.9" y1="72.12" x2="374.4" y2="72.12" stroke="#000" stroke-width="1.6"/>
<line x1="371.59999999999997" y1="64.08" x2="374.4" y2="64.08" stroke="#000" stroke-width="1.2"/>
<line x1="371.59999999999997" y1="59.37" x2="374.4" y2="59.37" stroke="#000" stroke-width="1.2"/>
<line x1="371.59999999999997" y1="56.03" x2="374.4" y2="56.03" stroke="#000" stroke-width="1.2"/>
<line x1="371.59999999999997" y1="53.44" x2="374.4" y2="53.44" stroke="#000" stroke-width="1.2"/>
<line x1="371.59999999999997" y1="51.33" x2="374.4" y2="51.33" stroke="#000" stroke-width="1.2"/>
<line x1="371.59999999999997" y1="49.54" x2="374.4" y2="49.54" stroke="#000" stroke-width="1.2"/>
<line x1="371.59999999999997" y1="47.99" x2="374.4" y2="47.99" stroke="#000" stroke-width="1.2"/>
<line x1="371.59999999999997" y1="46.62" x2="374.4" y2="46.62" stroke="#000" stroke-width="1.2"/>
<text x="359.6" y="78.72" font-size="17.5" font-weight="bold" font-style="normal" fill="#000" text-anchor="end" textLength="19.5" lengthAdjust="spacingAndGlyphs">10</text>
<text x="361.8" y="71.52000000000001" font-size="12.5" font-weight="bold" font-style="normal" fill="#000" text-anchor="start" textLength="6.2" lengthAdjust="spacingAndGlyphs">1</text>
<line x1="369.9" y1="45.40" x2="374.4" y2="45.40" stroke="#000" stroke-width="1.6"/>
<text x="359.6" y="52.0" font-size="17.5" font-weight="bold" font-style="normal" fill="#000" text-anchor="end" textLength="19.5" lengthAdjust="spacingAndGlyphs">10</text>
<text x="361.8" y="44.8" font-size="12.5" font-weight="bold" font-style="normal" fill="#000" text-anchor="start" textLength="6.2" lengthAdjust="spacingAndGlyphs">2</text>
<line x1="374.40" y1="179.0" x2="374.40" y2="183.0" stroke="#000" stroke-width="1.8"/>
<text x="374.40" y="202.4" font-size="15.5" font-weight="bold" font-style="normal" fill="#000" text-anchor="middle">0</text>
<line x1="424.70" y1="179.0" x2="424.70" y2="183.0" stroke="#000" stroke-width="1.8"/>
<text x="424.70" y="202.4" font-size="15.5" font-weight="bold" font-style="normal" fill="#000" text-anchor="middle">12</text>
<line x1="475.00" y1="179.0" x2="475.00" y2="183.0" stroke="#000" stroke-width="1.8"/>
<text x="475.00" y="202.4" font-size="15.5" font-weight="bold" font-style="normal" fill="#000" text-anchor="middle">24</text>
<line x1="525.30" y1="179.0" x2="525.30" y2="183.0" stroke="#000" stroke-width="1.8"/>
<text x="525.30" y="202.4" font-size="15.5" font-weight="bold" font-style="normal" fill="#000" text-anchor="middle">36</text>
<line x1="575.60" y1="179.0" x2="575.60" y2="183.0" stroke="#000" stroke-width="1.8"/>
<text x="575.60" y="202.4" font-size="15.5" font-weight="bold" font-style="normal" fill="#000" text-anchor="middle">48</text>
<text x="443.4" y="229.0" font-size="16" font-weight="bold" font-style="normal" fill="#000" text-anchor="start" textLength="63.2" lengthAdjust="spacingAndGlyphs">Time (h)</text>
<text x="322.5" y="104.6" font-size="15" font-weight="bold" font-style="normal" fill="#000" text-anchor="middle" transform="rotate(-90 322.5 104.6)">NSI</text>
<text x="625.2" y="61.1" font-size="13" font-weight="bold" font-style="normal" fill="#1E1E1E" text-anchor="middle" textLength="72" lengthAdjust="spacingAndGlyphs">Initial PAO1</text>
<text x="625.2" y="78.8" font-size="13" font-weight="bold" font-style="normal" fill="#1E1E1E" text-anchor="middle" textLength="57.3" lengthAdjust="spacingAndGlyphs">(CFU/mL)</text>
<line x1="579.6" y1="99.4" x2="594" y2="99.4" stroke="#000000" stroke-width="3"/>
<line x1="629.4" y1="99.4" x2="643.5" y2="99.4" stroke="#FF0000" stroke-width="3"/>
<text x="602.3" y="104.2" font-size="12.6" font-weight="normal" font-style="normal" fill="#3A3A3A" text-anchor="start" textLength="20.8" lengthAdjust="spacingAndGlyphs">Ctrl</text>
<text x="651.6" y="105.4" font-size="13" font-weight="normal" font-style="normal" fill="#3A3A3A" text-anchor="start" textLength="14.6" lengthAdjust="spacingAndGlyphs">10</text>
<text x="666.5" y="98.9" font-size="9" font-weight="normal" font-style="normal" fill="#3A3A3A" text-anchor="start">8</text>
<line x1="579.6" y1="117.2" x2="594" y2="117.2" stroke="#FF7A1E" stroke-width="3"/>
<line x1="629.4" y1="117.2" x2="643.5" y2="117.2" stroke="#FFFF00" stroke-width="3"/>
<text x="602.6" y="123.2" font-size="13" font-weight="normal" font-style="normal" fill="#3A3A3A" text-anchor="start" textLength="14.6" lengthAdjust="spacingAndGlyphs">10</text>
<text x="617.8" y="116.7" font-size="9" font-weight="normal" font-style="normal" fill="#3A3A3A" text-anchor="start">7</text>
<text x="651.6" y="123.2" font-size="13" font-weight="normal" font-style="normal" fill="#3A3A3A" text-anchor="start" textLength="14.6" lengthAdjust="spacingAndGlyphs">10</text>
<text x="666.5" y="116.7" font-size="9" font-weight="normal" font-style="normal" fill="#3A3A3A" text-anchor="start">6</text>
<line x1="579.6" y1="135.0" x2="594" y2="135.0" stroke="#12C112" stroke-width="3"/>
<line x1="629.4" y1="135.0" x2="643.5" y2="135.0" stroke="#1F98B5" stroke-width="3"/>
<text x="602.6" y="141.0" font-size="13" font-weight="normal" font-style="normal" fill="#3A3A3A" text-anchor="start" textLength="14.6" lengthAdjust="spacingAndGlyphs">10</text>
<text x="617.8" y="134.5" font-size="9" font-weight="normal" font-style="normal" fill="#3A3A3A" text-anchor="start">5</text>
<text x="651.6" y="141.0" font-size="13" font-weight="normal" font-style="normal" fill="#3A3A3A" text-anchor="start" textLength="14.6" lengthAdjust="spacingAndGlyphs">10</text>
<text x="666.5" y="134.5" font-size="9" font-weight="normal" font-style="normal" fill="#3A3A3A" text-anchor="start">4</text>
<line x1="579.6" y1="152.8" x2="594" y2="152.8" stroke="#0010FF" stroke-width="3"/>
<line x1="629.4" y1="152.8" x2="643.5" y2="152.8" stroke="#A010E6" stroke-width="3"/>
<text x="602.6" y="158.8" font-size="13" font-weight="normal" font-style="normal" fill="#3A3A3A" text-anchor="start" textLength="14.6" lengthAdjust="spacingAndGlyphs">10</text>
<text x="617.8" y="152.3" font-size="9" font-weight="normal" font-style="normal" fill="#3A3A3A" text-anchor="start">3</text>
<text x="651.6" y="158.8" font-size="13" font-weight="normal" font-style="normal" fill="#3A3A3A" text-anchor="start" textLength="14.6" lengthAdjust="spacingAndGlyphs">10</text>
<text x="666.5" y="152.3" font-size="9" font-weight="normal" font-style="normal" fill="#3A3A3A" text-anchor="start">2</text>
<line x1="374.4" y1="390.00" x2="575.6" y2="390.00" stroke="#BABABA" stroke-width="1.8"/>
<line x1="374.4" y1="367.70" x2="575.6" y2="367.70" stroke="#BABABA" stroke-width="1.8"/>
<line x1="374.4" y1="345.40" x2="575.6" y2="345.40" stroke="#BABABA" stroke-width="1.8"/>
<line x1="374.4" y1="323.10" x2="575.6" y2="323.10" stroke="#BABABA" stroke-width="1.8"/>
<line x1="374.4" y1="300.80" x2="575.6" y2="300.80" stroke="#BABABA" stroke-width="1.8"/>
<polyline points="374.6,391.5 382.2,386.9 387.3,383.8 391.4,381.8 394.5,377.7 397.5,372.6 400.6,365.4 403.7,358.3 406.7,352.2 410.8,341.2 414.9,328.9 418.0,319.7 422.1,312.6 427.2,308.5 432.3,306.5 440.0,301.1 465.5,301.9 480.9,303.2 499.3,303.9 510.0,304.4 540.0,305.5 575.6,306.1" fill="none" stroke="#A010E6" stroke-width="2.7" stroke-linejoin="round" stroke-linecap="round"/>
<polyline points="374.6,385.9 378.1,382.8 383.2,378.7 388.3,373.6 391.4,367.5 394.5,360.3 398.6,352.2 403.7,342.2 408.8,330.0 412.9,319.7 419.0,312.6 426.2,308.0 431.3,306.5 450.0,305.5 486.0,307.5 510.0,309.2 540.0,310.5 575.6,310.0" fill="none" stroke="#0010FF" stroke-width="2.7" stroke-linejoin="round" stroke-linecap="round"/>
<polyline points="374.6,381.3 379.2,376.7 382.2,370.5 385.3,360.3 388.3,353.2 394.5,342.2 401.6,330.0 406.7,319.7 414.9,311.6 423.1,307.0 430.2,306.0 450.0,305.5 486.0,307.0 520.0,308.0 575.6,309.0" fill="none" stroke="#1F98B5" stroke-width="2.7" stroke-linejoin="round" stroke-linecap="round"/>
<polyline points="374.6,369.5 377.1,360.3 380.2,353.2 385.3,345.3 392.4,333.0 397.5,322.8 405.7,314.6 412.9,309.0 420.0,306.0 428.2,305.4 450.0,305.0 486.0,306.5 510.0,305.5 545.0,307.5 575.6,309.0" fill="none" stroke="#12C112" stroke-width="2.7" stroke-linejoin="round" stroke-linecap="round"/>
<polyline points="374.6,348.4 378.1,338.1 383.2,330.0 388.3,318.7 395.5,312.6 402.7,307.0 410.8,304.9 421.0,304.4 445.0,304.0 470.7,306.5 510.0,307.0 545.0,307.5 575.6,308.6" fill="none" stroke="#FFFF00" stroke-width="2.7" stroke-linejoin="round" stroke-linecap="round"/>
<polyline points="374.6,326.9 378.1,318.7 383.2,311.6 391.4,303.9 398.6,300.3 404.7,298.8 418.0,298.8 428.2,300.3 442.0,302.4 455.3,303.6 470.7,304.6 486.0,305.4 510.0,307.0 540.0,307.5 575.6,310.4" fill="none" stroke="#FF7A1E" stroke-width="2.7" stroke-linejoin="round" stroke-linecap="round"/>
<polyline points="374.6,312.6 378.1,308.5 385.3,303.9 391.4,301.9 397.5,302.4 405.7,302.9 414.9,303.4 423.1,303.9 433.3,304.9 442.0,305.4 455.3,306.5 470.7,308.0 486.0,309.5 510.0,311.4 540.0,312.0 575.6,313.0" fill="none" stroke="#FF0000" stroke-width="2.7" stroke-linejoin="round" stroke-linecap="round"/>
<polyline points="374.6,374.1 378.1,372.1 385.3,368.0 392.4,366.0 400.6,364.6 412.9,363.9 428.2,363.9 431.3,364.9 442.0,364.9 480.0,366.5 520.0,368.5 550.0,369.0 575.6,369.0" fill="none" stroke="#000000" stroke-width="2.7" stroke-linejoin="round" stroke-linecap="round"/>
<line x1="370.4" y1="278.5" x2="676.2" y2="278.5" stroke="#000" stroke-width="2"/>
<line x1="575.6" y1="278.5" x2="575.6" y2="416.3" stroke="#000" stroke-width="2"/>
<line x1="676.2" y1="277.5" x2="676.2" y2="413.3" stroke="#000" stroke-width="2"/>
<line x1="374.4" y1="412.3" x2="676.2" y2="412.3" stroke="#000" stroke-width="2.2"/>
<line x1="374.4" y1="277.5" x2="374.4" y2="413.3" stroke="#000" stroke-width="2.4"/>
<line x1="369.9" y1="412.30" x2="374.4" y2="412.30" stroke="#000" stroke-width="1.6"/>
<line x1="371.59999999999997" y1="405.59" x2="374.4" y2="405.59" stroke="#000" stroke-width="1.2"/>
<line x1="371.59999999999997" y1="401.66" x2="374.4" y2="401.66" stroke="#000" stroke-width="1.2"/>
<line x1="371.59999999999997" y1="398.87" x2="374.4" y2="398.87" stroke="#000" stroke-width="1.2"/>
<line x1="371.59999999999997" y1="396.71" x2="374.4" y2="396.71" stroke="#000" stroke-width="1.2"/>
<line x1="371.59999999999997" y1="394.95" x2="374.4" y2="394.95" stroke="#000" stroke-width="1.2"/>
<line x1="371.59999999999997" y1="393.45" x2="374.4" y2="393.45" stroke="#000" stroke-width="1.2"/>
<line x1="371.59999999999997" y1="392.16" x2="374.4" y2="392.16" stroke="#000" stroke-width="1.2"/>
<line x1="371.59999999999997" y1="391.02" x2="374.4" y2="391.02" stroke="#000" stroke-width="1.2"/>
<text x="355.5" y="418.90000000000003" font-size="17.5" font-weight="bold" font-style="normal" fill="#000" text-anchor="end" textLength="19.5" lengthAdjust="spacingAndGlyphs">10</text>
<text x="358" y="411.8" font-size="12.5" font-weight="bold" font-style="normal" fill="#000" text-anchor="start" textLength="11" lengthAdjust="spacingAndGlyphs">-1</text>
<line x1="369.9" y1="390.00" x2="374.4" y2="390.00" stroke="#000" stroke-width="1.6"/>
<line x1="371.59999999999997" y1="383.29" x2="374.4" y2="383.29" stroke="#000" stroke-width="1.2"/>
<line x1="371.59999999999997" y1="379.36" x2="374.4" y2="379.36" stroke="#000" stroke-width="1.2"/>
<line x1="371.59999999999997" y1="376.57" x2="374.4" y2="376.57" stroke="#000" stroke-width="1.2"/>
<line x1="371.59999999999997" y1="374.41" x2="374.4" y2="374.41" stroke="#000" stroke-width="1.2"/>
<line x1="371.59999999999997" y1="372.65" x2="374.4" y2="372.65" stroke="#000" stroke-width="1.2"/>
<line x1="371.59999999999997" y1="371.15" x2="374.4" y2="371.15" stroke="#000" stroke-width="1.2"/>
<line x1="371.59999999999997" y1="369.86" x2="374.4" y2="369.86" stroke="#000" stroke-width="1.2"/>
<line x1="371.59999999999997" y1="368.72" x2="374.4" y2="368.72" stroke="#000" stroke-width="1.2"/>
<text x="359.6" y="396.6" font-size="17.5" font-weight="bold" font-style="normal" fill="#000" text-anchor="end" textLength="19.5" lengthAdjust="spacingAndGlyphs">10</text>
<text x="361.8" y="389.4" font-size="12.5" font-weight="bold" font-style="normal" fill="#000" text-anchor="start" textLength="6.2" lengthAdjust="spacingAndGlyphs">0</text>
<line x1="369.9" y1="367.70" x2="374.4" y2="367.70" stroke="#000" stroke-width="1.6"/>
<line x1="371.59999999999997" y1="360.99" x2="374.4" y2="360.99" stroke="#000" stroke-width="1.2"/>
<line x1="371.59999999999997" y1="357.06" x2="374.4" y2="357.06" stroke="#000" stroke-width="1.2"/>
<line x1="371.59999999999997" y1="354.27" x2="374.4" y2="354.27" stroke="#000" stroke-width="1.2"/>
<line x1="371.59999999999997" y1="352.11" x2="374.4" y2="352.11" stroke="#000" stroke-width="1.2"/>
<line x1="371.59999999999997" y1="350.35" x2="374.4" y2="350.35" stroke="#000" stroke-width="1.2"/>
<line x1="371.59999999999997" y1="348.85" x2="374.4" y2="348.85" stroke="#000" stroke-width="1.2"/>
<line x1="371.59999999999997" y1="347.56" x2="374.4" y2="347.56" stroke="#000" stroke-width="1.2"/>
<line x1="371.59999999999997" y1="346.42" x2="374.4" y2="346.42" stroke="#000" stroke-width="1.2"/>
<text x="359.6" y="374.3" font-size="17.5" font-weight="bold" font-style="normal" fill="#000" text-anchor="end" textLength="19.5" lengthAdjust="spacingAndGlyphs">10</text>
<text x="361.8" y="367.09999999999997" font-size="12.5" font-weight="bold" font-style="normal" fill="#000" text-anchor="start" textLength="6.2" lengthAdjust="spacingAndGlyphs">1</text>
<line x1="369.9" y1="345.40" x2="374.4" y2="345.40" stroke="#000" stroke-width="1.6"/>
<line x1="371.59999999999997" y1="338.69" x2="374.4" y2="338.69" stroke="#000" stroke-width="1.2"/>
<line x1="371.59999999999997" y1="334.76" x2="374.4" y2="334.76" stroke="#000" stroke-width="1.2"/>
<line x1="371.59999999999997" y1="331.97" x2="374.4" y2="331.97" stroke="#000" stroke-width="1.2"/>
<line x1="371.59999999999997" y1="329.81" x2="374.4" y2="329.81" stroke="#000" stroke-width="1.2"/>
<line x1="371.59999999999997" y1="328.05" x2="374.4" y2="328.05" stroke="#000" stroke-width="1.2"/>
<line x1="371.59999999999997" y1="326.55" x2="374.4" y2="326.55" stroke="#000" stroke-width="1.2"/>
<line x1="371.59999999999997" y1="325.26" x2="374.4" y2="325.26" stroke="#000" stroke-width="1.2"/>
<line x1="371.59999999999997" y1="324.12" x2="374.4" y2="324.12" stroke="#000" stroke-width="1.2"/>
<text x="359.6" y="352.0" font-size="17.5" font-weight="bold" font-style="normal" fill="#000" text-anchor="end" textLength="19.5" lengthAdjust="spacingAndGlyphs">10</text>
<text x="361.8" y="344.79999999999995" font-size="12.5" font-weight="bold" font-style="normal" fill="#000" text-anchor="start" textLength="6.2" lengthAdjust="spacingAndGlyphs">2</text>
<line x1="369.9" y1="323.10" x2="374.4" y2="323.10" stroke="#000" stroke-width="1.6"/>
<line x1="371.59999999999997" y1="316.39" x2="374.4" y2="316.39" stroke="#000" stroke-width="1.2"/>
<line x1="371.59999999999997" y1="312.46" x2="374.4" y2="312.46" stroke="#000" stroke-width="1.2"/>
<line x1="371.59999999999997" y1="309.67" x2="374.4" y2="309.67" stroke="#000" stroke-width="1.2"/>
<line x1="371.59999999999997" y1="307.51" x2="374.4" y2="307.51" stroke="#000" stroke-width="1.2"/>
<line x1="371.59999999999997" y1="305.75" x2="374.4" y2="305.75" stroke="#000" stroke-width="1.2"/>
<line x1="371.59999999999997" y1="304.25" x2="374.4" y2="304.25" stroke="#000" stroke-width="1.2"/>
<line x1="371.59999999999997" y1="302.96" x2="374.4" y2="302.96" stroke="#000" stroke-width="1.2"/>
<line x1="371.59999999999997" y1="301.82" x2="374.4" y2="301.82" stroke="#000" stroke-width="1.2"/>
<text x="359.6" y="329.70000000000005" font-size="17.5" font-weight="bold" font-style="normal" fill="#000" text-anchor="end" textLength="19.5" lengthAdjust="spacingAndGlyphs">10</text>
<text x="361.8" y="322.5" font-size="12.5" font-weight="bold" font-style="normal" fill="#000" text-anchor="start" textLength="6.2" lengthAdjust="spacingAndGlyphs">3</text>
<line x1="369.9" y1="300.80" x2="374.4" y2="300.80" stroke="#000" stroke-width="1.6"/>
<line x1="371.59999999999997" y1="294.09" x2="374.4" y2="294.09" stroke="#000" stroke-width="1.2"/>
<line x1="371.59999999999997" y1="290.16" x2="374.4" y2="290.16" stroke="#000" stroke-width="1.2"/>
<line x1="371.59999999999997" y1="287.37" x2="374.4" y2="287.37" stroke="#000" stroke-width="1.2"/>
<line x1="371.59999999999997" y1="285.21" x2="374.4" y2="285.21" stroke="#000" stroke-width="1.2"/>
<line x1="371.59999999999997" y1="283.45" x2="374.4" y2="283.45" stroke="#000" stroke-width="1.2"/>
<line x1="371.59999999999997" y1="281.95" x2="374.4" y2="281.95" stroke="#000" stroke-width="1.2"/>
<line x1="371.59999999999997" y1="280.66" x2="374.4" y2="280.66" stroke="#000" stroke-width="1.2"/>
<line x1="371.59999999999997" y1="279.52" x2="374.4" y2="279.52" stroke="#000" stroke-width="1.2"/>
<text x="359.6" y="307.40000000000003" font-size="17.5" font-weight="bold" font-style="normal" fill="#000" text-anchor="end" textLength="19.5" lengthAdjust="spacingAndGlyphs">10</text>
<text x="361.8" y="300.2" font-size="12.5" font-weight="bold" font-style="normal" fill="#000" text-anchor="start" textLength="6.2" lengthAdjust="spacingAndGlyphs">4</text>
<line x1="369.9" y1="278.50" x2="374.4" y2="278.50" stroke="#000" stroke-width="1.6"/>
<text x="359.6" y="285.1" font-size="17.5" font-weight="bold" font-style="normal" fill="#000" text-anchor="end" textLength="19.5" lengthAdjust="spacingAndGlyphs">10</text>
<text x="361.8" y="277.9" font-size="12.5" font-weight="bold" font-style="normal" fill="#000" text-anchor="start" textLength="6.2" lengthAdjust="spacingAndGlyphs">5</text>
<line x1="374.40" y1="412.3" x2="374.40" y2="416.3" stroke="#000" stroke-width="1.8"/>
<text x="374.40" y="435.7" font-size="15.5" font-weight="bold" font-style="normal" fill="#000" text-anchor="middle">0</text>
<line x1="424.70" y1="412.3" x2="424.70" y2="416.3" stroke="#000" stroke-width="1.8"/>
<text x="424.70" y="435.7" font-size="15.5" font-weight="bold" font-style="normal" fill="#000" text-anchor="middle">12</text>
<line x1="475.00" y1="412.3" x2="475.00" y2="416.3" stroke="#000" stroke-width="1.8"/>
<text x="475.00" y="435.7" font-size="15.5" font-weight="bold" font-style="normal" fill="#000" text-anchor="middle">24</text>
<line x1="525.30" y1="412.3" x2="525.30" y2="416.3" stroke="#000" stroke-width="1.8"/>
<text x="525.30" y="435.7" font-size="15.5" font-weight="bold" font-style="normal" fill="#000" text-anchor="middle">36</text>
<line x1="575.60" y1="412.3" x2="575.60" y2="416.3" stroke="#000" stroke-width="1.8"/>
<text x="575.60" y="435.7" font-size="15.5" font-weight="bold" font-style="normal" fill="#000" text-anchor="middle">48</text>
<text x="443.4" y="462.3" font-size="16" font-weight="bold" font-style="normal" fill="#000" text-anchor="start" textLength="63.2" lengthAdjust="spacingAndGlyphs">Time (h)</text>
<text x="322.5" y="337.8" font-size="15" font-weight="bold" font-style="normal" fill="#000" text-anchor="middle" transform="rotate(-90 322.5 337.8)">NSI</text>
<text x="625.2" y="292.6" font-size="11" font-weight="bold" font-style="normal" fill="#1E1E1E" text-anchor="middle" textLength="29.8" lengthAdjust="spacingAndGlyphs">Initial</text>
<text x="625.2" y="308.6" font-size="11" font-weight="bold" font-style="italic" fill="#1E1E1E" text-anchor="middle" textLength="73" lengthAdjust="spacingAndGlyphs">P. aeruginosa</text>
<text x="625.2" y="325" font-size="11" font-weight="bold" font-style="normal" fill="#1E1E1E" text-anchor="middle" textLength="70" lengthAdjust="spacingAndGlyphs">Lux (CFU/mL)</text>
<line x1="579.6" y1="341.5" x2="594" y2="341.5" stroke="#000000" stroke-width="3"/>
<line x1="629.4" y1="341.5" x2="643.5" y2="341.5" stroke="#FF0000" stroke-width="3"/>
<text x="602.3" y="346.3" font-size="12.6" font-weight="normal" font-style="normal" fill="#3A3A3A" text-anchor="start" textLength="20.8" lengthAdjust="spacingAndGlyphs">Ctrl</text>
<text x="651.6" y="347.5" font-size="13" font-weight="normal" font-style="normal" fill="#3A3A3A" text-anchor="start" textLength="14.6" lengthAdjust="spacingAndGlyphs">10</text>
<text x="666.5" y="341.0" font-size="9" font-weight="normal" font-style="normal" fill="#3A3A3A" text-anchor="start">8</text>
<line x1="579.6" y1="359.3" x2="594" y2="359.3" stroke="#FF7A1E" stroke-width="3"/>
<line x1="629.4" y1="359.3" x2="643.5" y2="359.3" stroke="#FFFF00" stroke-width="3"/>
<text x="602.6" y="365.3" font-size="13" font-weight="normal" font-style="normal" fill="#3A3A3A" text-anchor="start" textLength="14.6" lengthAdjust="spacingAndGlyphs">10</text>
<text x="617.8" y="358.8" font-size="9" font-weight="normal" font-style="normal" fill="#3A3A3A" text-anchor="start">7</text>
<text x="651.6" y="365.3" font-size="13" font-weight="normal" font-style="normal" fill="#3A3A3A" text-anchor="start" textLength="14.6" lengthAdjust="spacingAndGlyphs">10</text>
<text x="666.5" y="358.8" font-size="9" font-weight="normal" font-style="normal" fill="#3A3A3A" text-anchor="start">6</text>
<line x1="579.6" y1="377.1" x2="594" y2="377.1" stroke="#12C112" stroke-width="3"/>
<line x1="629.4" y1="377.1" x2="643.5" y2="377.1" stroke="#1F98B5" stroke-width="3"/>
<text x="602.6" y="383.1" font-size="13" font-weight="normal" font-style="normal" fill="#3A3A3A" text-anchor="start" textLength="14.6" lengthAdjust="spacingAndGlyphs">10</text>
<text x="617.8" y="376.6" font-size="9" font-weight="normal" font-style="normal" fill="#3A3A3A" text-anchor="start">5</text>
<text x="651.6" y="383.1" font-size="13" font-weight="normal" font-style="normal" fill="#3A3A3A" text-anchor="start" textLength="14.6" lengthAdjust="spacingAndGlyphs">10</text>
<text x="666.5" y="376.6" font-size="9" font-weight="normal" font-style="normal" fill="#3A3A3A" text-anchor="start">4</text>
<line x1="579.6" y1="394.9" x2="594" y2="394.9" stroke="#0010FF" stroke-width="3"/>
<line x1="629.4" y1="394.9" x2="643.5" y2="394.9" stroke="#A010E6" stroke-width="3"/>
<text x="602.6" y="400.9" font-size="13" font-weight="normal" font-style="normal" fill="#3A3A3A" text-anchor="start" textLength="14.6" lengthAdjust="spacingAndGlyphs">10</text>
<text x="617.8" y="394.4" font-size="9" font-weight="normal" font-style="normal" fill="#3A3A3A" text-anchor="start">3</text>
<text x="651.6" y="400.9" font-size="13" font-weight="normal" font-style="normal" fill="#3A3A3A" text-anchor="start" textLength="14.6" lengthAdjust="spacingAndGlyphs">10</text>
<text x="666.5" y="394.4" font-size="9" font-weight="normal" font-style="normal" fill="#3A3A3A" text-anchor="start">2</text>
<line x1="151.7" y1="727.26" x2="613.4" y2="727.26" stroke="#E0E0E0" stroke-width="1.9"/>
<line x1="151.7" y1="685.22" x2="613.4" y2="685.22" stroke="#E0E0E0" stroke-width="1.9"/>
<line x1="151.7" y1="643.18" x2="613.4" y2="643.18" stroke="#E0E0E0" stroke-width="1.9"/>
<line x1="151.7" y1="601.14" x2="613.4" y2="601.14" stroke="#E0E0E0" stroke-width="1.9"/>
<line x1="151.7" y1="559.10" x2="613.4" y2="559.10" stroke="#E0E0E0" stroke-width="1.9"/>
<rect x="161.60" y="571.4" width="18.7" height="197.80" fill="#3452A8" stroke="#1A1F3A" stroke-width="1"/>
<line x1="170.95" y1="571.4" x2="170.95" y2="570.2" stroke="#000" stroke-width="1.8"/>
<line x1="166.35" y1="570.2" x2="175.55" y2="570.2" stroke="#000" stroke-width="2.2"/>
<rect x="219.60" y="615.6" width="18.7" height="153.60" fill="#3452A8" stroke="#1A1F3A" stroke-width="1"/>
<line x1="228.95" y1="615.6" x2="228.95" y2="610.4" stroke="#000" stroke-width="1.8"/>
<line x1="224.35" y1="610.4" x2="233.55" y2="610.4" stroke="#000" stroke-width="2.2"/>
<rect x="238.30" y="564.0" width="19.4" height="205.20" fill="#F5AD2E" stroke="#3A2A0A" stroke-width="1"/>
<line x1="248.00" y1="564.0" x2="248.00" y2="559.4" stroke="#000" stroke-width="1.8"/>
<line x1="243.40" y1="559.4" x2="252.60" y2="559.4" stroke="#000" stroke-width="2.2"/>
<rect x="277.60" y="602.0" width="18.7" height="167.20" fill="#3452A8" stroke="#1A1F3A" stroke-width="1"/>
<line x1="286.95" y1="602.0" x2="286.95" y2="596.6" stroke="#000" stroke-width="1.8"/>
<line x1="282.35" y1="596.6" x2="291.55" y2="596.6" stroke="#000" stroke-width="2.2"/>
<rect x="296.30" y="576.6" width="19.4" height="192.60" fill="#F5AD2E" stroke="#3A2A0A" stroke-width="1"/>
<line x1="306.00" y1="576.6" x2="306.00" y2="572.0" stroke="#000" stroke-width="1.8"/>
<line x1="301.40" y1="572.0" x2="310.60" y2="572.0" stroke="#000" stroke-width="2.2"/>
<rect x="335.60" y="595.6" width="18.7" height="173.60" fill="#3452A8" stroke="#1A1F3A" stroke-width="1"/>
<line x1="344.95" y1="595.6" x2="344.95" y2="590.4" stroke="#000" stroke-width="1.8"/>
<line x1="340.35" y1="590.4" x2="349.55" y2="590.4" stroke="#000" stroke-width="2.2"/>
<rect x="354.30" y="564.6" width="19.4" height="204.60" fill="#F5AD2E" stroke="#3A2A0A" stroke-width="1"/>
<line x1="364.00" y1="564.6" x2="364.00" y2="559.6" stroke="#000" stroke-width="1.8"/>
<line x1="359.40" y1="559.6" x2="368.60" y2="559.6" stroke="#000" stroke-width="2.2"/>
<rect x="393.60" y="594.0" width="18.7" height="175.20" fill="#3452A8" stroke="#1A1F3A" stroke-width="1"/>
<line x1="402.95" y1="594.0" x2="402.95" y2="588.6" stroke="#000" stroke-width="1.8"/>
<line x1="398.35" y1="588.6" x2="407.55" y2="588.6" stroke="#000" stroke-width="2.2"/>
<rect x="412.30" y="571.6" width="19.4" height="197.60" fill="#F5AD2E" stroke="#3A2A0A" stroke-width="1"/>
<line x1="422.00" y1="571.6" x2="422.00" y2="566.4" stroke="#000" stroke-width="1.8"/>
<line x1="417.40" y1="566.4" x2="426.60" y2="566.4" stroke="#000" stroke-width="2.2"/>
<rect x="451.60" y="590.6" width="18.7" height="178.60" fill="#3452A8" stroke="#1A1F3A" stroke-width="1"/>
<line x1="460.95" y1="590.6" x2="460.95" y2="586.4" stroke="#000" stroke-width="1.8"/>
<line x1="456.35" y1="586.4" x2="465.55" y2="586.4" stroke="#000" stroke-width="2.2"/>
<rect x="470.30" y="577.6" width="19.4" height="191.60" fill="#F5AD2E" stroke="#3A2A0A" stroke-width="1"/>
<line x1="480.00" y1="577.6" x2="480.00" y2="570.0" stroke="#000" stroke-width="1.8"/>
<line x1="475.40" y1="570.0" x2="484.60" y2="570.0" stroke="#000" stroke-width="2.2"/>
<rect x="509.60" y="588.0" width="18.7" height="181.20" fill="#3452A8" stroke="#1A1F3A" stroke-width="1"/>
<line x1="518.95" y1="588.0" x2="518.95" y2="582.0" stroke="#000" stroke-width="1.8"/>
<line x1="514.35" y1="582.0" x2="523.55" y2="582.0" stroke="#000" stroke-width="2.2"/>
<rect x="528.30" y="575.2" width="19.4" height="194.00" fill="#F5AD2E" stroke="#3A2A0A" stroke-width="1"/>
<line x1="538.00" y1="575.2" x2="538.00" y2="570.4" stroke="#000" stroke-width="1.8"/>
<line x1="533.40" y1="570.4" x2="542.60" y2="570.4" stroke="#000" stroke-width="2.2"/>
<rect x="567.60" y="589.0" width="18.7" height="180.20" fill="#3452A8" stroke="#1A1F3A" stroke-width="1"/>
<line x1="576.95" y1="589.0" x2="576.95" y2="584.4" stroke="#000" stroke-width="1.8"/>
<line x1="572.35" y1="584.4" x2="581.55" y2="584.4" stroke="#000" stroke-width="2.2"/>
<rect x="586.30" y="577.6" width="19.4" height="191.60" fill="#F5AD2E" stroke="#3A2A0A" stroke-width="1"/>
<line x1="596.00" y1="577.6" x2="596.00" y2="574.0" stroke="#000" stroke-width="1.8"/>
<line x1="591.40" y1="574.0" x2="600.60" y2="574.0" stroke="#000" stroke-width="2.2"/>
<line x1="144.4" y1="517.1999999999999" x2="614.4" y2="517.1999999999999" stroke="#000" stroke-width="2.2"/>
<line x1="613.4" y1="517.4" x2="613.4" y2="769.2" stroke="#000" stroke-width="2.2"/>
<line x1="144.4" y1="769.2" x2="614.4" y2="769.2" stroke="#000" stroke-width="2.6"/>
<line x1="151.7" y1="517.4" x2="151.7" y2="769.2" stroke="#000" stroke-width="2.5"/>
<line x1="144.4" y1="769.30" x2="151.7" y2="769.30" stroke="#000" stroke-width="2.2"/>
<line x1="144.4" y1="727.26" x2="151.7" y2="727.26" stroke="#000" stroke-width="2.2"/>
<rect x="147.79999999999998" y="727.26" width="3.9" height="11.5" fill="#000"/>
<line x1="147.79999999999998" y1="740.66" x2="151.7" y2="740.66" stroke="#000" stroke-width="1.4"/>
<line x1="147.79999999999998" y1="744.86" x2="151.7" y2="744.86" stroke="#000" stroke-width="1.4"/>
<line x1="147.79999999999998" y1="749.86" x2="151.7" y2="749.86" stroke="#000" stroke-width="1.4"/>
<line x1="147.79999999999998" y1="756.76" x2="151.7" y2="756.76" stroke="#000" stroke-width="1.4"/>
<line x1="144.4" y1="685.22" x2="151.7" y2="685.22" stroke="#000" stroke-width="2.2"/>
<rect x="147.79999999999998" y="685.22" width="3.9" height="11.5" fill="#000"/>
<line x1="147.79999999999998" y1="698.62" x2="151.7" y2="698.62" stroke="#000" stroke-width="1.4"/>
<line x1="147.79999999999998" y1="702.82" x2="151.7" y2="702.82" stroke="#000" stroke-width="1.4"/>
<line x1="147.79999999999998" y1="707.82" x2="151.7" y2="707.82" stroke="#000" stroke-width="1.4"/>
<line x1="147.79999999999998" y1="714.72" x2="151.7" y2="714.72" stroke="#000" stroke-width="1.4"/>
<line x1="144.4" y1="643.18" x2="151.7" y2="643.18" stroke="#000" stroke-width="2.2"/>
<rect x="147.79999999999998" y="643.18" width="3.9" height="11.5" fill="#000"/>
<line x1="147.79999999999998" y1="656.58" x2="151.7" y2="656.58" stroke="#000" stroke-width="1.4"/>
<line x1="147.79999999999998" y1="660.78" x2="151.7" y2="660.78" stroke="#000" stroke-width="1.4"/>
<line x1="147.79999999999998" y1="665.78" x2="151.7" y2="665.78" stroke="#000" stroke-width="1.4"/>
<line x1="147.79999999999998" y1="672.68" x2="151.7" y2="672.68" stroke="#000" stroke-width="1.4"/>
<line x1="144.4" y1="601.14" x2="151.7" y2="601.14" stroke="#000" stroke-width="2.2"/>
<rect x="147.79999999999998" y="601.14" width="3.9" height="11.5" fill="#000"/>
<line x1="147.79999999999998" y1="614.54" x2="151.7" y2="614.54" stroke="#000" stroke-width="1.4"/>
<line x1="147.79999999999998" y1="618.74" x2="151.7" y2="618.74" stroke="#000" stroke-width="1.4"/>
<line x1="147.79999999999998" y1="623.74" x2="151.7" y2="623.74" stroke="#000" stroke-width="1.4"/>
<line x1="147.79999999999998" y1="630.64" x2="151.7" y2="630.64" stroke="#000" stroke-width="1.4"/>
<line x1="144.4" y1="559.10" x2="151.7" y2="559.10" stroke="#000" stroke-width="2.2"/>
<rect x="147.79999999999998" y="559.10" width="3.9" height="11.5" fill="#000"/>
<line x1="147.79999999999998" y1="572.50" x2="151.7" y2="572.50" stroke="#000" stroke-width="1.4"/>
<line x1="147.79999999999998" y1="576.70" x2="151.7" y2="576.70" stroke="#000" stroke-width="1.4"/>
<line x1="147.79999999999998" y1="581.70" x2="151.7" y2="581.70" stroke="#000" stroke-width="1.4"/>
<line x1="147.79999999999998" y1="588.60" x2="151.7" y2="588.60" stroke="#000" stroke-width="1.4"/>
<line x1="144.4" y1="517.06" x2="151.7" y2="517.06" stroke="#000" stroke-width="2.2"/>
<rect x="147.79999999999998" y="517.06" width="3.9" height="11.5" fill="#000"/>
<line x1="147.79999999999998" y1="530.46" x2="151.7" y2="530.46" stroke="#000" stroke-width="1.4"/>
<line x1="147.79999999999998" y1="534.66" x2="151.7" y2="534.66" stroke="#000" stroke-width="1.4"/>
<line x1="147.79999999999998" y1="539.66" x2="151.7" y2="539.66" stroke="#000" stroke-width="1.4"/>
<line x1="147.79999999999998" y1="546.56" x2="151.7" y2="546.56" stroke="#000" stroke-width="1.4"/>
<text x="133.1" y="769.7" font-size="16" font-weight="bold" font-style="normal" fill="#000" text-anchor="start" textLength="8.0" lengthAdjust="spacingAndGlyphs">0</text>
<text x="129.5" y="778.3" font-size="23.5" font-weight="bold" font-style="normal" fill="#000" text-anchor="end" textLength="25" lengthAdjust="spacingAndGlyphs">10</text>
<text x="133.1" y="727.7" font-size="16" font-weight="bold" font-style="normal" fill="#000" text-anchor="start" textLength="8.0" lengthAdjust="spacingAndGlyphs">2</text>
<text x="129.5" y="736.3" font-size="23.5" font-weight="bold" font-style="normal" fill="#000" text-anchor="end" textLength="25" lengthAdjust="spacingAndGlyphs">10</text>
<text x="133.1" y="685.6" font-size="16" font-weight="bold" font-style="normal" fill="#000" text-anchor="start" textLength="8.0" lengthAdjust="spacingAndGlyphs">4</text>
<text x="129.5" y="694.2" font-size="23.5" font-weight="bold" font-style="normal" fill="#000" text-anchor="end" textLength="25" lengthAdjust="spacingAndGlyphs">10</text>
<text x="133.1" y="643.6" font-size="16" font-weight="bold" font-style="normal" fill="#000" text-anchor="start" textLength="8.0" lengthAdjust="spacingAndGlyphs">6</text>
<text x="129.5" y="652.2" font-size="23.5" font-weight="bold" font-style="normal" fill="#000" text-anchor="end" textLength="25" lengthAdjust="spacingAndGlyphs">10</text>
<text x="133.1" y="601.5" font-size="16" font-weight="bold" font-style="normal" fill="#000" text-anchor="start" textLength="8.0" lengthAdjust="spacingAndGlyphs">8</text>
<text x="129.5" y="610.1" font-size="23.5" font-weight="bold" font-style="normal" fill="#000" text-anchor="end" textLength="25" lengthAdjust="spacingAndGlyphs">10</text>
<text x="124.7" y="559.5" font-size="16" font-weight="bold" font-style="normal" fill="#000" text-anchor="start" textLength="16.4" lengthAdjust="spacingAndGlyphs">10</text>
<text x="119.6" y="568.1" font-size="23.5" font-weight="bold" font-style="normal" fill="#000" text-anchor="end" textLength="25" lengthAdjust="spacingAndGlyphs">10</text>
<text x="124.7" y="517.5" font-size="16" font-weight="bold" font-style="normal" fill="#000" text-anchor="start" textLength="16.4" lengthAdjust="spacingAndGlyphs">12</text>
<text x="119.6" y="526.1" font-size="23.5" font-weight="bold" font-style="normal" fill="#000" text-anchor="end" textLength="25" lengthAdjust="spacingAndGlyphs">10</text>
<line x1="180.30" y1="769.2" x2="180.30" y2="776.7" stroke="#000" stroke-width="2"/>
<text x="164.1" y="802.3" font-size="21" font-weight="bold" font-style="normal" fill="#000" text-anchor="start" textLength="32.4" lengthAdjust="spacingAndGlyphs">Ctrl</text>
<line x1="238.30" y1="769.2" x2="238.30" y2="776.7" stroke="#000" stroke-width="2"/>
<text x="222.5" y="802.7" font-size="21.5" font-weight="bold" font-style="normal" fill="#000" text-anchor="start" textLength="22.5" lengthAdjust="spacingAndGlyphs">10</text>
<text x="246.3" y="790.7" font-size="15.5" font-weight="normal" font-style="normal" fill="#222" text-anchor="start">8</text>
<line x1="296.30" y1="769.2" x2="296.30" y2="776.7" stroke="#000" stroke-width="2"/>
<text x="280.5" y="802.7" font-size="21.5" font-weight="bold" font-style="normal" fill="#000" text-anchor="start" textLength="22.5" lengthAdjust="spacingAndGlyphs">10</text>
<text x="304.3" y="790.7" font-size="15.5" font-weight="normal" font-style="normal" fill="#222" text-anchor="start">7</text>
<line x1="354.30" y1="769.2" x2="354.30" y2="776.7" stroke="#000" stroke-width="2"/>
<text x="338.5" y="802.7" font-size="21.5" font-weight="bold" font-style="normal" fill="#000" text-anchor="start" textLength="22.5" lengthAdjust="spacingAndGlyphs">10</text>
<text x="362.3" y="790.7" font-size="15.5" font-weight="normal" font-style="normal" fill="#222" text-anchor="start">6</text>
<line x1="412.30" y1="769.2" x2="412.30" y2="776.7" stroke="#000" stroke-width="2"/>
<text x="396.5" y="802.7" font-size="21.5" font-weight="bold" font-style="normal" fill="#000" text-anchor="start" textLength="22.5" lengthAdjust="spacingAndGlyphs">10</text>
<text x="420.3" y="790.7" font-size="15.5" font-weight="normal" font-style="normal" fill="#222" text-anchor="start">5</text>
<line x1="470.30" y1="769.2" x2="470.30" y2="776.7" stroke="#000" stroke-width="2"/>
<text x="454.5" y="802.7" font-size="21.5" font-weight="bold" font-style="normal" fill="#000" text-anchor="start" textLength="22.5" lengthAdjust="spacingAndGlyphs">10</text>
<text x="478.3" y="790.7" font-size="15.5" font-weight="normal" font-style="normal" fill="#222" text-anchor="start">4</text>
<line x1="528.30" y1="769.2" x2="528.30" y2="776.7" stroke="#000" stroke-width="2"/>
<text x="512.5" y="802.7" font-size="21.5" font-weight="bold" font-style="normal" fill="#000" text-anchor="start" textLength="22.5" lengthAdjust="spacingAndGlyphs">10</text>
<text x="536.3" y="790.7" font-size="15.5" font-weight="normal" font-style="normal" fill="#222" text-anchor="start">3</text>
<line x1="586.30" y1="769.2" x2="586.30" y2="776.7" stroke="#000" stroke-width="2"/>
<text x="570.5" y="802.7" font-size="21.5" font-weight="bold" font-style="normal" fill="#000" text-anchor="start" textLength="22.5" lengthAdjust="spacingAndGlyphs">10</text>
<text x="594.3" y="790.7" font-size="15.5" font-weight="normal" font-style="normal" fill="#222" text-anchor="start">2</text>
<rect x="184.5" y="526.5" width="26" height="19" fill="#3452A8" stroke="#1A1F3A" stroke-width="1"/>
<rect x="343.6" y="526.3" width="25.6" height="18.7" fill="#F5AD2E" stroke="#3A2A0A" stroke-width="1"/>
<text x="225.1" y="544.1" font-size="21" font-weight="normal" font-style="italic" fill="#1A1A1A" text-anchor="start" textLength="86" lengthAdjust="spacingAndGlyphs">S. aureus</text>
<text x="383.2" y="544.1" font-size="21" font-weight="normal" font-style="italic" fill="#1A1A1A" text-anchor="start" textLength="129.3" lengthAdjust="spacingAndGlyphs">P. aeruginosa</text>
<text x="73.5" y="638" font-size="23.5" font-weight="bold" font-style="normal" fill="#000" text-anchor="middle" textLength="90" lengthAdjust="spacingAndGlyphs" transform="rotate(-90 73.5 638)">CFU/mL</text>
<text x="216" y="857" font-size="24" font-weight="bold" fill="#000" textLength="335" lengthAdjust="spacingAndGlyphs">Initial CFU/mL (<tspan font-style="italic">P. aeruginosa</tspan>)</text>
</svg></body></html>
